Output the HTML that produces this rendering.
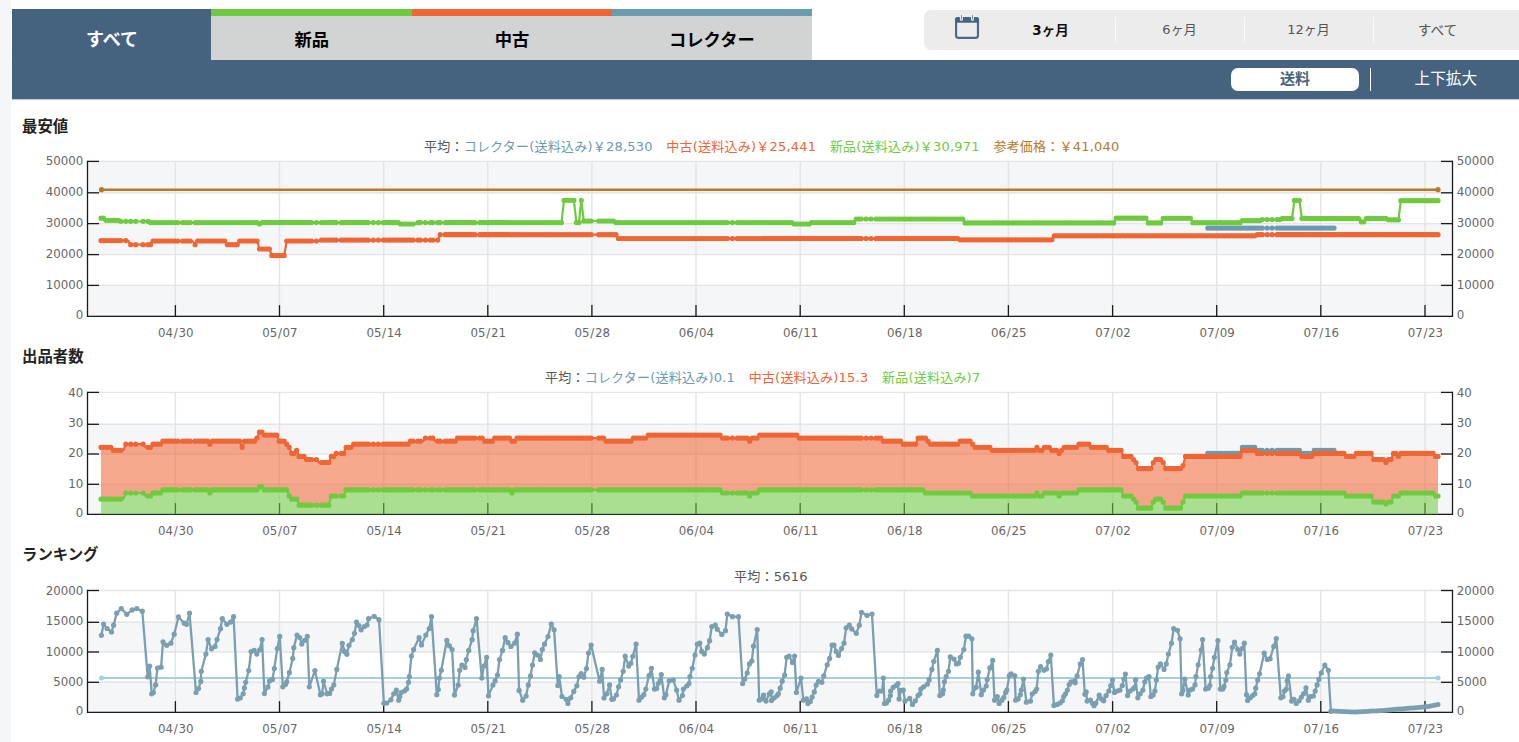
<!DOCTYPE html>
<html lang="ja"><head><meta charset="utf-8"><title>価格推移グラフ</title>
<style>
html,body{margin:0;padding:0}
body{width:1519px;height:742px;overflow:hidden;background:#fff;position:relative;font-family:"Liberation Sans","Noto Sans CJK JP",sans-serif;color:#222}
.abs{position:absolute}
.strip{left:0;top:0;width:11px;height:742px;background:#f5f6f8}
.bar{left:12px;top:59.5px;width:1508px;height:39.3px;background:#45627f;box-shadow:0 1px 1px rgba(0,0,0,.22)}
.tab{top:9px;height:51px;width:201px;text-align:center;font-weight:bold;font-size:17.3px;line-height:17px;color:#000;background:#d2d4d4;box-sizing:border-box}
.tab span{position:absolute;left:0;right:0;top:22.6px}
.tab i{position:absolute;left:0;right:0;top:0;height:7px}
.tab.on{background:#45627f;color:#fff}
.period{left:924px;top:10px;width:620px;height:40px;background:#ececec;border-radius:7px}
.pc{position:absolute;top:0;height:40px;width:129px;text-align:center;font-size:13px;line-height:40px;color:#555;font-family:"DejaVu Sans","Noto Sans CJK JP",sans-serif}
.pc.on{font-weight:bold;color:#111;font-size:13.5px}
.sep{position:absolute;top:7px;height:26px;width:1.3px;background:#fafafa}
.pill{left:1231px;top:68px;width:128px;height:23px;background:#fff;border-radius:7px;text-align:center;font-weight:bold;font-size:15px;line-height:22px;color:#45627f}
.vsep{left:1370px;top:68px;width:1.2px;height:23px;background:#fff}
.zoom{left:1395.8px;top:68.4px;width:100px;height:23px;text-align:center;color:#fff;font-size:15.6px;line-height:22px}
.ttl{left:22px;font-weight:bold;font-size:15.4px;line-height:18px;color:#222;white-space:nowrap}
.lg{font-size:13px;line-height:16px;letter-spacing:.22px;white-space:nowrap;color:#555;font-family:"DejaVu Sans","Noto Sans CJK JP",sans-serif}
.lg span{margin-right:13.6px}
.lg span:last-child{margin-right:0}
svg text{font-family:"DejaVu Sans","Liberation Sans",sans-serif;font-size:11.8px;fill:#666}
</style></head><body>
<div class="abs strip"></div>
<div class="abs bar"></div>
<div class="abs tab on" style="left:12px;width:200px"><span style="font-size:18px">すべて</span></div>
<div class="abs tab" style="left:211.2px"><i style="background:#6ecb3f"></i><span>新品</span></div>
<div class="abs tab" style="left:411.6px"><i style="background:#ef6534"></i><span>中古</span></div>
<div class="abs tab" style="left:611.8px;width:200.2px"><i style="background:#6b9bb0"></i><span>コレクター</span></div>
<div class="abs period">
 <svg class="abs" style="left:30px;top:4px" width="28" height="28" viewBox="0 0 28 28"><rect x="2.07" y="4.15" width="21.9" height="19.75" rx="2.4" fill="none" stroke="#4b6988" stroke-width="2.15"/><path d="M1 8.8V5.6Q1 3.05 3.6 3.05H22.45Q25.05 3.05 25.05 5.6V8.8Z" fill="#456484"/><ellipse cx="7.4" cy="3.9" rx="1.6" ry="3.05" fill="#ececec"/><ellipse cx="18.45" cy="3.9" rx="1.6" ry="3.05" fill="#ececec"/><rect x="7.05" y="0.9" width=".7" height="4.8" rx=".35" fill="#456484"/><rect x="18.1" y="0.9" width=".7" height="4.8" rx=".35" fill="#456484"/></svg>
 <div class="pc on" style="left:62px">3ヶ月</div>
 <div class="sep" style="left:190.5px"></div>
 <div class="pc" style="left:191px">6ヶ月</div>
 <div class="sep" style="left:319.5px"></div>
 <div class="pc" style="left:320px">12ヶ月</div>
 <div class="sep" style="left:448.5px"></div>
 <div class="pc" style="left:449px;font-size:13.7px">すべて</div>
</div>
<div class="abs pill">送料</div>
<div class="abs vsep"></div>
<div class="abs zoom">上下拡大</div>

<div class="abs ttl" style="top:117.8px">最安値</div>
<div class="abs ttl" style="top:348.4px">出品者数</div>
<div class="abs ttl" style="top:545.9px">ランキング</div>

<div class="abs lg" id="lg1" style="left:424px;top:139.4px"><span style="margin-right:0">平均：</span><span style="color:#6b9bb0">コレクター(送料込み)￥28,530</span><span style="color:#ef6534">中古(送料込み)￥25,441</span><span style="color:#6ecb3f">新品(送料込み)￥30,971</span><span style="color:#b57a2b">参考価格：￥41,040</span></div>
<div class="abs lg" id="lg2" style="left:545px;top:370.4px"><span style="margin-right:0">平均：</span><span style="color:#6b9bb0">コレクター(送料込み)0.1</span><span style="color:#ef6534">中古(送料込み)15.3</span><span style="color:#6ecb3f">新品(送料込み)7</span></div>
<div class="abs lg" id="lg3" style="left:734px;top:568.6px"><span style="margin-right:0">平均：</span><span>5616</span></div>

<svg class="abs" style="left:0;top:0" width="1519" height="742" viewBox="0 0 1519 742">
<rect x="87.5" y="161.4" width="1365.0" height="31.4" fill="#f5f6f8"/>
<rect x="87.5" y="223.6" width="1365.0" height="31" fill="#f5f6f8"/>
<rect x="87.5" y="285.4" width="1365.0" height="30.9" fill="#f5f6f8"/>
<line x1="87.5" x2="1452.5" y1="161.4" y2="161.4" stroke="#e4e4e4" stroke-width="1.4"/>
<line x1="87.5" x2="1452.5" y1="192.8" y2="192.8" stroke="#e4e4e4" stroke-width="1.4"/>
<line x1="87.5" x2="1452.5" y1="223.6" y2="223.6" stroke="#e4e4e4" stroke-width="1.4"/>
<line x1="87.5" x2="1452.5" y1="254.6" y2="254.6" stroke="#e4e4e4" stroke-width="1.4"/>
<line x1="87.5" x2="1452.5" y1="285.4" y2="285.4" stroke="#e4e4e4" stroke-width="1.4"/>
<line x1="87.5" x2="1452.5" y1="316.3" y2="316.3" stroke="#e4e4e4" stroke-width="1.4"/>
<line x1="175.4" x2="175.4" y1="161.4" y2="316.3" stroke="#e4e4e4" stroke-width="1.4"/>
<line x1="279.5" x2="279.5" y1="161.4" y2="316.3" stroke="#e4e4e4" stroke-width="1.4"/>
<line x1="383.7" x2="383.7" y1="161.4" y2="316.3" stroke="#e4e4e4" stroke-width="1.4"/>
<line x1="487.8" x2="487.8" y1="161.4" y2="316.3" stroke="#e4e4e4" stroke-width="1.4"/>
<line x1="591.9" x2="591.9" y1="161.4" y2="316.3" stroke="#e4e4e4" stroke-width="1.4"/>
<line x1="696" x2="696" y1="161.4" y2="316.3" stroke="#e4e4e4" stroke-width="1.4"/>
<line x1="800.2" x2="800.2" y1="161.4" y2="316.3" stroke="#e4e4e4" stroke-width="1.4"/>
<line x1="904.3" x2="904.3" y1="161.4" y2="316.3" stroke="#e4e4e4" stroke-width="1.4"/>
<line x1="1008.4" x2="1008.4" y1="161.4" y2="316.3" stroke="#e4e4e4" stroke-width="1.4"/>
<line x1="1112.6" x2="1112.6" y1="161.4" y2="316.3" stroke="#e4e4e4" stroke-width="1.4"/>
<line x1="1216.7" x2="1216.7" y1="161.4" y2="316.3" stroke="#e4e4e4" stroke-width="1.4"/>
<line x1="1320.8" x2="1320.8" y1="161.4" y2="316.3" stroke="#e4e4e4" stroke-width="1.4"/>
<line x1="1425" x2="1425" y1="161.4" y2="316.3" stroke="#e4e4e4" stroke-width="1.4"/>
<path d="M87.5 160.7V316.3H1452.5V160.7" fill="none" stroke="#1a1a1a" stroke-width="1.3"/>
<line x1="87.5" x2="99.0" y1="161.4" y2="161.4" stroke="#1a1a1a" stroke-width="1.3"/>
<line x1="1441.0" x2="1452.5" y1="161.4" y2="161.4" stroke="#1a1a1a" stroke-width="1.3"/>
<text x="83.3" y="165.1" text-anchor="end">50000</text>
<text x="1456.8" y="165.1">50000</text>
<line x1="87.5" x2="99.0" y1="192.8" y2="192.8" stroke="#1a1a1a" stroke-width="1.3"/>
<line x1="1441.0" x2="1452.5" y1="192.8" y2="192.8" stroke="#1a1a1a" stroke-width="1.3"/>
<text x="83.3" y="195.9" text-anchor="end">40000</text>
<text x="1456.8" y="195.9">40000</text>
<line x1="87.5" x2="99.0" y1="223.6" y2="223.6" stroke="#1a1a1a" stroke-width="1.3"/>
<line x1="1441.0" x2="1452.5" y1="223.6" y2="223.6" stroke="#1a1a1a" stroke-width="1.3"/>
<text x="83.3" y="226.7" text-anchor="end">30000</text>
<text x="1456.8" y="226.7">30000</text>
<line x1="87.5" x2="99.0" y1="254.6" y2="254.6" stroke="#1a1a1a" stroke-width="1.3"/>
<line x1="1441.0" x2="1452.5" y1="254.6" y2="254.6" stroke="#1a1a1a" stroke-width="1.3"/>
<text x="83.3" y="257.9" text-anchor="end">20000</text>
<text x="1456.8" y="257.9">20000</text>
<line x1="87.5" x2="99.0" y1="285.4" y2="285.4" stroke="#1a1a1a" stroke-width="1.3"/>
<line x1="1441.0" x2="1452.5" y1="285.4" y2="285.4" stroke="#1a1a1a" stroke-width="1.3"/>
<text x="83.3" y="288.9" text-anchor="end">10000</text>
<text x="1456.8" y="288.9">10000</text>
<text x="83.3" y="318.7" text-anchor="end">0</text>
<text x="1456.8" y="318.7">0</text>
<line x1="175.4" x2="175.4" y1="305.1" y2="316.3" stroke="#1a1a1a" stroke-width="1.3"/>
<text x="175.8" y="336.7" text-anchor="middle">04<tspan dx=".7">/</tspan><tspan dx=".7">30</tspan></text>
<line x1="279.5" x2="279.5" y1="305.1" y2="316.3" stroke="#1a1a1a" stroke-width="1.3"/>
<text x="279.9" y="336.7" text-anchor="middle">05<tspan dx=".7">/</tspan><tspan dx=".7">07</tspan></text>
<line x1="383.7" x2="383.7" y1="305.1" y2="316.3" stroke="#1a1a1a" stroke-width="1.3"/>
<text x="384.1" y="336.7" text-anchor="middle">05<tspan dx=".7">/</tspan><tspan dx=".7">14</tspan></text>
<line x1="487.8" x2="487.8" y1="305.1" y2="316.3" stroke="#1a1a1a" stroke-width="1.3"/>
<text x="488.2" y="336.7" text-anchor="middle">05<tspan dx=".7">/</tspan><tspan dx=".7">21</tspan></text>
<line x1="591.9" x2="591.9" y1="305.1" y2="316.3" stroke="#1a1a1a" stroke-width="1.3"/>
<text x="592.3" y="336.7" text-anchor="middle">05<tspan dx=".7">/</tspan><tspan dx=".7">28</tspan></text>
<line x1="696" x2="696" y1="305.1" y2="316.3" stroke="#1a1a1a" stroke-width="1.3"/>
<text x="696.4" y="336.7" text-anchor="middle">06<tspan dx=".7">/</tspan><tspan dx=".7">04</tspan></text>
<line x1="800.2" x2="800.2" y1="305.1" y2="316.3" stroke="#1a1a1a" stroke-width="1.3"/>
<text x="800.6" y="336.7" text-anchor="middle">06<tspan dx=".7">/</tspan><tspan dx=".7">11</tspan></text>
<line x1="904.3" x2="904.3" y1="305.1" y2="316.3" stroke="#1a1a1a" stroke-width="1.3"/>
<text x="904.7" y="336.7" text-anchor="middle">06<tspan dx=".7">/</tspan><tspan dx=".7">18</tspan></text>
<line x1="1008.4" x2="1008.4" y1="305.1" y2="316.3" stroke="#1a1a1a" stroke-width="1.3"/>
<text x="1008.8" y="336.7" text-anchor="middle">06<tspan dx=".7">/</tspan><tspan dx=".7">25</tspan></text>
<line x1="1112.6" x2="1112.6" y1="305.1" y2="316.3" stroke="#1a1a1a" stroke-width="1.3"/>
<text x="1113" y="336.7" text-anchor="middle">07<tspan dx=".7">/</tspan><tspan dx=".7">02</tspan></text>
<line x1="1216.7" x2="1216.7" y1="305.1" y2="316.3" stroke="#1a1a1a" stroke-width="1.3"/>
<text x="1217.1" y="336.7" text-anchor="middle">07<tspan dx=".7">/</tspan><tspan dx=".7">09</tspan></text>
<line x1="1320.8" x2="1320.8" y1="305.1" y2="316.3" stroke="#1a1a1a" stroke-width="1.3"/>
<text x="1321.2" y="336.7" text-anchor="middle">07<tspan dx=".7">/</tspan><tspan dx=".7">16</tspan></text>
<line x1="1425" x2="1425" y1="305.1" y2="316.3" stroke="#1a1a1a" stroke-width="1.3"/>
<text x="1425.4" y="336.7" text-anchor="middle">07<tspan dx=".7">/</tspan><tspan dx=".7">23</tspan></text>
<line x1="101.5" x2="1438" y1="189.7" y2="189.7" stroke="#b57a2b" stroke-width="2.4"/>
<circle cx="101.5" cy="189.7" r="2.6" fill="#b57a2b"/><circle cx="1438" cy="189.7" r="2.6" fill="#b57a2b"/>
<path d="M1207.8 228.1L1210.2 228.1L1212.7 228.1L1215.2 228.1L1217.7 228.1L1220.2 228.1L1222.6 228.1L1225.1 228.1L1227.6 228.1L1230.1 228.1L1232.5 228.1L1235 228.1L1237.5 228.1L1240 228.1L1242.4 228.1L1244.9 228.1L1247.4 228.1L1249.9 228.1L1252.3 228.1L1254.8 228.1L1257.3 228.1L1259.8 228.1L1262.2 228.1L1264.7 228.1L1267.2 228.1L1269.7 228.1L1272.1 228.1L1274.6 228.1L1277.1 228.1L1279.6 228.1L1282.1 228.1L1284.5 228.1L1287 228.1L1289.5 228.1L1292 228.1L1294.4 228.1L1296.9 228.1L1299.4 228.1L1301.9 228.1L1304.3 228.1L1306.8 228.1L1309.3 228.1L1311.8 228.1L1314.2 228.1L1316.7 228.1L1319.2 228.1L1321.7 228.1L1324.1 228.1L1326.6 228.1L1329.1 228.1L1331.6 228.1L1334 228.1" fill="none" stroke="#6b9bb0" stroke-width="2.2" stroke-linejoin="round"/>
<path d="M1207.8 228.1h0M1210.2 228.1h0M1212.7 228.1h0M1215.2 228.1h0M1217.7 228.1h0M1220.2 228.1h0M1222.6 228.1h0M1225.1 228.1h0M1227.6 228.1h0M1230.1 228.1h0M1232.5 228.1h0M1235 228.1h0M1237.5 228.1h0M1240 228.1h0M1242.4 228.1h0M1244.9 228.1h0M1247.4 228.1h0M1249.9 228.1h0M1252.3 228.1h0M1254.8 228.1h0M1257.3 228.1h0M1259.8 228.1h0M1262.2 228.1h0M1267.2 228.1h0M1272.1 228.1h0M1277.1 228.1h0M1279.6 228.1h0M1282.1 228.1h0M1284.5 228.1h0M1287 228.1h0M1289.5 228.1h0M1292 228.1h0M1294.4 228.1h0M1296.9 228.1h0M1299.4 228.1h0M1301.9 228.1h0M1304.3 228.1h0M1306.8 228.1h0M1309.3 228.1h0M1311.8 228.1h0M1314.2 228.1h0M1316.7 228.1h0M1319.2 228.1h0M1321.7 228.1h0M1324.1 228.1h0M1326.6 228.1h0M1329.1 228.1h0M1331.6 228.1h0M1334 228.1h0" fill="none" stroke="#6b9bb0" stroke-width="5.2" stroke-linecap="round"/>
<path d="M101 240.6L103.5 240.6L106 240.6L108.4 240.6L110.9 240.6L113.4 240.6L115.9 240.6L118.3 240.6L120.8 240.6L123.3 240.6L125.8 240.6L128.2 240.6L130.7 244.7L133.2 244.7L135.7 244.7L138.1 244.7L140.6 244.7L143.1 244.7L145.6 244.7L148 244.7L150.5 244.7L153 241L155.5 241L157.9 241L160.4 241L162.9 241L165.4 241L167.9 241L170.3 241L172.8 241L175.3 241L177.8 241L180.2 241L182.7 241L185.2 241L187.7 241L190.1 241L192.6 241L195.1 244.7L197.6 241L200 241L202.5 241L205 241L207.5 241L209.9 241L212.4 241L214.9 241L217.4 241L219.8 241L222.3 241L224.8 241L227.3 244.7L229.8 244.7L232.2 244.7L234.7 244.7L237.2 244.7L239.7 241L242.1 241L244.6 241L247.1 241L249.6 241L252 241L254.5 241L257 241L259.5 249L261.9 249L264.4 249L266.9 249L269.4 249L271.8 255.6L274.3 255.6L276.8 255.6L279.3 255.6L281.7 255.6L284.2 255.6L286.7 241L289.2 241L291.7 241L294.1 241L296.6 241L299.1 241L301.6 241L304 241L306.5 241L309 241L311.5 241L313.9 241L316.4 241L318.9 241L321.4 240.1L323.8 240.1L326.3 240.1L328.8 240.1L331.3 240.1L333.7 240.1L336.2 240.1L338.7 240.1L341.2 240.1L343.6 240.1L346.1 240.1L348.6 240.1L351.1 240.1L353.6 240.1L356 240.1L358.5 240.1L361 240.1L363.5 240.1L365.9 240.1L368.4 240.1L370.9 240.1L373.4 240.1L375.8 240.1L378.3 240.1L380.8 240.1L383.3 240.1L385.7 240.1L388.2 240.1L390.7 240.1L393.2 240.1L395.6 240.1L398.1 240.1L400.6 240.1L403.1 240.1L405.5 240.1L408 240.1L410.5 240.1L413 240.1L415.5 240.1L417.9 240.1L420.4 240.1L422.9 240.1L425.4 240.1L427.8 240.1L430.3 240.1L432.8 240.1L435.3 240.1L437.7 240.1L440.2 234.7L442.7 234.7L445.2 234.7L447.6 234.7L450.1 234.7L452.6 234.7L455.1 234.7L457.5 234.7L460 234.7L462.5 234.7L465 234.7L467.4 234.7L469.9 234.7L472.4 234.7L474.9 234.7L477.4 234.7L479.8 234.7L482.3 234.7L484.8 234.7L487.3 234.7L489.7 234.7L492.2 234.7L494.7 234.7L497.2 234.7L499.6 234.7L502.1 234.7L504.6 234.7L507.1 234.7L509.5 234.7L512 234.7L514.5 234.7L517 234.7L519.4 234.7L521.9 234.7L524.4 234.7L526.9 234.7L529.3 234.7L531.8 234.7L534.3 234.7L536.8 234.7L539.3 234.7L541.7 234.7L544.2 234.7L546.7 234.7L549.2 234.7L551.6 234.7L554.1 234.7L556.6 234.7L559.1 234.7L561.5 234.7L564 234.7L566.5 234.7L569 234.7L571.4 234.7L573.9 234.7L576.4 234.7L578.9 234.7L581.3 234.7L583.8 234.7L586.3 234.7L588.8 234.7L591.2 234.7L593.7 234.7L596.2 234.7L598.7 234.7L601.2 234.7L603.6 234.7L606.1 234.7L608.6 234.7L611.1 234.7L613.5 234.7L616 234.7L618.5 238.5L621 238.5L623.4 238.5L625.9 238.5L628.4 238.5L630.9 238.5L633.3 238.5L635.8 238.5L638.3 238.5L640.8 238.5L643.2 238.5L645.7 238.5L648.2 238.5L650.7 238.5L653.1 238.5L655.6 238.5L658.1 238.5L660.6 238.5L663.1 238.5L665.5 238.5L668 238.5L670.5 238.5L673 238.5L675.4 238.5L677.9 238.5L680.4 238.5L682.9 238.5L685.3 238.5L687.8 238.5L690.3 238.5L692.8 238.5L695.2 238.5L697.7 238.5L700.2 238.5L702.7 238.5L705.1 238.5L707.6 238.5L710.1 238.5L712.6 238.5L715 238.5L717.5 238.5L720 238.5L722.5 238.5L725 238.5L727.4 238.5L729.9 238.5L732.4 238.5L734.9 238.5L737.3 238.5L739.8 238.5L742.3 238.5L744.8 238.5L747.2 238.5L749.7 238.5L752.2 238.5L754.7 238.5L757.1 238.5L759.6 238.5L762.1 238.5L764.6 238.5L767 238.5L769.5 238.5L772 238.5L774.5 238.5L776.9 238.5L779.4 238.5L781.9 238.5L784.4 238.5L786.9 238.5L789.3 238.5L791.8 238.5L794.3 238.5L796.8 238.5L799.2 238.5L801.7 238.5L804.2 238.5L806.7 238.5L809.1 238.5L811.6 238.5L814.1 238.5L816.6 238.5L819 238.5L821.5 238.5L824 238.5L826.5 238.5L828.9 238.5L831.4 238.5L833.9 238.5L836.4 238.5L838.8 238.5L841.3 238.5L843.8 238.5L846.3 238.5L848.8 238.5L851.2 238.5L853.7 238.5L856.2 238.5L858.7 238.5L861.1 238.5L863.6 238.5L866.1 238.5L868.6 238.5L871 238.5L873.5 238.5L876 238.5L878.5 238.5L880.9 238.5L883.4 238.5L885.9 238.5L888.4 238.5L890.8 238.5L893.3 238.5L895.8 238.5L898.3 238.5L900.7 238.5L903.2 238.5L905.7 238.5L908.2 238.5L910.7 238.5L913.1 238.5L915.6 238.5L918.1 238.5L920.6 238.5L923 238.5L925.5 238.5L928 238.5L930.5 238.5L932.9 238.5L935.4 238.5L937.9 238.5L940.4 238.5L942.8 238.5L945.3 238.5L947.8 238.5L950.3 238.5L952.7 238.5L955.2 238.5L957.7 238.5L960.2 239.8L962.6 239.8L965.1 239.8L967.6 239.8L970.1 239.8L972.6 239.8L975 239.8L977.5 239.8L980 239.8L982.5 239.8L984.9 239.8L987.4 239.8L989.9 239.8L992.4 239.8L994.8 239.8L997.3 239.8L999.8 239.8L1002.3 239.8L1004.7 239.8L1007.2 239.8L1009.7 239.8L1012.2 239.8L1014.6 239.8L1017.1 239.8L1019.6 239.8L1022.1 239.8L1024.5 239.8L1027 239.8L1029.5 239.8L1032 239.8L1034.5 239.8L1036.9 239.8L1039.4 239.8L1041.9 239.8L1044.4 239.8L1046.8 239.8L1049.3 239.8L1051.8 239.8L1054.3 235.8L1056.7 235.8L1059.2 235.8L1061.7 235.8L1064.2 235.8L1066.6 235.8L1069.1 235.8L1071.6 235.8L1074.1 235.8L1076.5 235.8L1079 235.8L1081.5 235.8L1084 235.8L1086.4 235.8L1088.9 235.8L1091.4 235.8L1093.9 235.8L1096.4 235.8L1098.8 235.8L1101.3 235.8L1103.8 235.8L1106.3 235.8L1108.7 235.8L1111.2 235.8L1113.7 235.8L1116.2 235.8L1118.6 235.8L1121.1 235.8L1123.6 235.8L1126.1 235.8L1128.5 235.8L1131 235.8L1133.5 235.8L1136 235.8L1138.4 235.8L1140.9 235.8L1143.4 235.8L1145.9 235.8L1148.3 235.8L1150.8 235.8L1153.3 235.8L1155.8 235.8L1158.3 235.8L1160.7 235.8L1163.2 235.8L1165.7 235.8L1168.2 235.8L1170.6 235.8L1173.1 235.8L1175.6 235.8L1178.1 235.8L1180.5 235.8L1183 235.8L1185.5 235.8L1188 235.8L1190.4 235.8L1192.9 235.8L1195.4 235.8L1197.9 235.8L1200.3 235.8L1202.8 235.8L1205.3 235.8L1207.8 235.8L1210.2 235.8L1212.7 235.8L1215.2 235.8L1217.7 235.8L1220.2 235.8L1222.6 235.8L1225.1 235.8L1227.6 235.8L1230.1 235.8L1232.5 235.8L1235 235.8L1237.5 235.8L1240 235.8L1242.4 235.8L1244.9 235.8L1247.4 235.8L1249.9 235.8L1252.3 235.8L1254.8 235.8L1257.3 234.7L1259.8 234.7L1262.2 234.7L1264.7 234.7L1267.2 234.7L1269.7 234.7L1272.1 234.7L1274.6 234.7L1277.1 234.7L1279.6 234.7L1282.1 234.7L1284.5 234.7L1287 234.7L1289.5 234.7L1292 234.7L1294.4 234.7L1296.9 234.7L1299.4 234.7L1301.9 234.7L1304.3 234.7L1306.8 234.7L1309.3 234.7L1311.8 234.7L1314.2 234.7L1316.7 234.7L1319.2 234.7L1321.7 234.7L1324.1 234.7L1326.6 234.7L1329.1 234.7L1331.6 234.7L1334 234.7L1336.5 234.7L1339 234.7L1341.5 234.7L1344 234.7L1346.4 234.7L1348.9 234.7L1351.4 234.7L1353.9 234.7L1356.3 234.7L1358.8 234.7L1361.3 234.7L1363.8 234.7L1366.2 234.7L1368.7 234.7L1371.2 234.7L1373.7 234.7L1376.1 234.7L1378.6 234.7L1381.1 234.7L1383.6 234.7L1386 234.7L1388.5 234.7L1391 234.7L1393.5 234.7L1395.9 234.7L1398.4 234.7L1400.9 234.7L1403.4 234.7L1405.9 234.7L1408.3 234.7L1410.8 234.7L1413.3 234.7L1415.8 234.7L1418.2 234.7L1420.7 234.7L1423.2 234.7L1425.7 234.7L1428.1 234.7L1430.6 234.7L1433.1 234.7L1435.6 234.7L1438 234.7" fill="none" stroke="#ef6534" stroke-width="2.2" stroke-linejoin="round"/>
<path d="M101 240.6h0M103.5 240.6h0M106 240.6h0M108.4 240.6h0M110.9 240.6h0M113.4 240.6h0M115.9 240.6h0M118.3 240.6h0M120.8 240.6h0M125.8 240.6h0M130.7 244.7h0M135.7 244.7h0M143.1 244.7h0M148 244.7h0M150.5 244.7h0M153 241h0M155.5 241h0M157.9 241h0M160.4 241h0M162.9 241h0M165.4 241h0M167.9 241h0M170.3 241h0M172.8 241h0M175.3 241h0M177.8 241h0M182.7 241h0M185.2 241h0M187.7 241h0M190.1 241h0M195.1 244.7h0M197.6 241h0M200 241h0M202.5 241h0M205 241h0M207.5 241h0M209.9 241h0M212.4 241h0M214.9 241h0M217.4 241h0M219.8 241h0M222.3 241h0M224.8 241h0M227.3 244.7h0M229.8 244.7h0M232.2 244.7h0M234.7 244.7h0M237.2 244.7h0M239.7 241h0M242.1 241h0M244.6 241h0M247.1 241h0M249.6 241h0M252 241h0M254.5 241h0M257 241h0M259.5 249h0M261.9 249h0M264.4 249h0M266.9 249h0M269.4 249h0M271.8 255.6h0M274.3 255.6h0M276.8 255.6h0M279.3 255.6h0M281.7 255.6h0M284.2 255.6h0M286.7 241h0M289.2 241h0M291.7 241h0M294.1 241h0M296.6 241h0M299.1 241h0M301.6 241h0M304 241h0M306.5 241h0M309 241h0M311.5 241h0M316.4 241h0M321.4 240.1h0M323.8 240.1h0M326.3 240.1h0M328.8 240.1h0M331.3 240.1h0M333.7 240.1h0M336.2 240.1h0M341.2 240.1h0M343.6 240.1h0M346.1 240.1h0M348.6 240.1h0M351.1 240.1h0M353.6 240.1h0M356 240.1h0M358.5 240.1h0M361 240.1h0M363.5 240.1h0M365.9 240.1h0M368.4 240.1h0M373.4 240.1h0M378.3 240.1h0M383.3 240.1h0M385.7 240.1h0M388.2 240.1h0M390.7 240.1h0M393.2 240.1h0M395.6 240.1h0M398.1 240.1h0M400.6 240.1h0M403.1 240.1h0M405.5 240.1h0M408 240.1h0M410.5 240.1h0M413 240.1h0M417.9 240.1h0M420.4 240.1h0M425.4 240.1h0M430.3 240.1h0M432.8 240.1h0M437.7 240.1h0M440.2 234.7h0M445.2 234.7h0M447.6 234.7h0M450.1 234.7h0M452.6 234.7h0M455.1 234.7h0M457.5 234.7h0M460 234.7h0M462.5 234.7h0M465 234.7h0M467.4 234.7h0M469.9 234.7h0M472.4 234.7h0M474.9 234.7h0M479.8 234.7h0M482.3 234.7h0M484.8 234.7h0M487.3 234.7h0M489.7 234.7h0M492.2 234.7h0M494.7 234.7h0M497.2 234.7h0M499.6 234.7h0M502.1 234.7h0M504.6 234.7h0M507.1 234.7h0M509.5 234.7h0M512 234.7h0M514.5 234.7h0M517 234.7h0M519.4 234.7h0M521.9 234.7h0M524.4 234.7h0M526.9 234.7h0M529.3 234.7h0M531.8 234.7h0M534.3 234.7h0M536.8 234.7h0M539.3 234.7h0M541.7 234.7h0M544.2 234.7h0M546.7 234.7h0M549.2 234.7h0M551.6 234.7h0M554.1 234.7h0M556.6 234.7h0M559.1 234.7h0M561.5 234.7h0M564 234.7h0M566.5 234.7h0M569 234.7h0M571.4 234.7h0M573.9 234.7h0M576.4 234.7h0M578.9 234.7h0M581.3 234.7h0M583.8 234.7h0M586.3 234.7h0M588.8 234.7h0M591.2 234.7h0M598.7 234.7h0M601.2 234.7h0M603.6 234.7h0M606.1 234.7h0M608.6 234.7h0M611.1 234.7h0M613.5 234.7h0M616 234.7h0M618.5 238.5h0M621 238.5h0M623.4 238.5h0M625.9 238.5h0M628.4 238.5h0M630.9 238.5h0M633.3 238.5h0M635.8 238.5h0M638.3 238.5h0M640.8 238.5h0M643.2 238.5h0M645.7 238.5h0M648.2 238.5h0M650.7 238.5h0M653.1 238.5h0M655.6 238.5h0M658.1 238.5h0M660.6 238.5h0M663.1 238.5h0M665.5 238.5h0M668 238.5h0M670.5 238.5h0M673 238.5h0M675.4 238.5h0M677.9 238.5h0M680.4 238.5h0M682.9 238.5h0M685.3 238.5h0M687.8 238.5h0M690.3 238.5h0M692.8 238.5h0M695.2 238.5h0M697.7 238.5h0M700.2 238.5h0M702.7 238.5h0M705.1 238.5h0M707.6 238.5h0M710.1 238.5h0M712.6 238.5h0M715 238.5h0M717.5 238.5h0M720 238.5h0M722.5 238.5h0M725 238.5h0M727.4 238.5h0M732.4 238.5h0M737.3 238.5h0M739.8 238.5h0M742.3 238.5h0M744.8 238.5h0M747.2 238.5h0M749.7 238.5h0M752.2 238.5h0M754.7 238.5h0M757.1 238.5h0M759.6 238.5h0M762.1 238.5h0M764.6 238.5h0M767 238.5h0M769.5 238.5h0M772 238.5h0M774.5 238.5h0M776.9 238.5h0M779.4 238.5h0M781.9 238.5h0M784.4 238.5h0M786.9 238.5h0M789.3 238.5h0M791.8 238.5h0M794.3 238.5h0M796.8 238.5h0M799.2 238.5h0M801.7 238.5h0M804.2 238.5h0M806.7 238.5h0M809.1 238.5h0M811.6 238.5h0M814.1 238.5h0M816.6 238.5h0M819 238.5h0M821.5 238.5h0M824 238.5h0M826.5 238.5h0M828.9 238.5h0M831.4 238.5h0M833.9 238.5h0M836.4 238.5h0M838.8 238.5h0M841.3 238.5h0M843.8 238.5h0M846.3 238.5h0M848.8 238.5h0M851.2 238.5h0M853.7 238.5h0M856.2 238.5h0M858.7 238.5h0M861.1 238.5h0M866.1 238.5h0M871 238.5h0M876 238.5h0M878.5 238.5h0M880.9 238.5h0M883.4 238.5h0M885.9 238.5h0M888.4 238.5h0M890.8 238.5h0M893.3 238.5h0M895.8 238.5h0M898.3 238.5h0M900.7 238.5h0M903.2 238.5h0M905.7 238.5h0M908.2 238.5h0M910.7 238.5h0M913.1 238.5h0M915.6 238.5h0M918.1 238.5h0M920.6 238.5h0M923 238.5h0M925.5 238.5h0M928 238.5h0M930.5 238.5h0M932.9 238.5h0M935.4 238.5h0M937.9 238.5h0M940.4 238.5h0M942.8 238.5h0M945.3 238.5h0M947.8 238.5h0M950.3 238.5h0M952.7 238.5h0M955.2 238.5h0M957.7 238.5h0M960.2 239.8h0M962.6 239.8h0M965.1 239.8h0M967.6 239.8h0M970.1 239.8h0M972.6 239.8h0M975 239.8h0M977.5 239.8h0M980 239.8h0M982.5 239.8h0M984.9 239.8h0M987.4 239.8h0M989.9 239.8h0M992.4 239.8h0M994.8 239.8h0M997.3 239.8h0M999.8 239.8h0M1002.3 239.8h0M1004.7 239.8h0M1007.2 239.8h0M1009.7 239.8h0M1012.2 239.8h0M1014.6 239.8h0M1017.1 239.8h0M1019.6 239.8h0M1022.1 239.8h0M1024.5 239.8h0M1027 239.8h0M1029.5 239.8h0M1032 239.8h0M1034.5 239.8h0M1036.9 239.8h0M1039.4 239.8h0M1041.9 239.8h0M1044.4 239.8h0M1046.8 239.8h0M1049.3 239.8h0M1051.8 239.8h0M1054.3 235.8h0M1056.7 235.8h0M1059.2 235.8h0M1061.7 235.8h0M1064.2 235.8h0M1066.6 235.8h0M1069.1 235.8h0M1071.6 235.8h0M1074.1 235.8h0M1076.5 235.8h0M1079 235.8h0M1081.5 235.8h0M1084 235.8h0M1086.4 235.8h0M1088.9 235.8h0M1091.4 235.8h0M1093.9 235.8h0M1096.4 235.8h0M1098.8 235.8h0M1101.3 235.8h0M1103.8 235.8h0M1106.3 235.8h0M1108.7 235.8h0M1111.2 235.8h0M1113.7 235.8h0M1116.2 235.8h0M1118.6 235.8h0M1121.1 235.8h0M1123.6 235.8h0M1126.1 235.8h0M1128.5 235.8h0M1131 235.8h0M1133.5 235.8h0M1136 235.8h0M1138.4 235.8h0M1140.9 235.8h0M1143.4 235.8h0M1145.9 235.8h0M1148.3 235.8h0M1150.8 235.8h0M1153.3 235.8h0M1155.8 235.8h0M1158.3 235.8h0M1160.7 235.8h0M1163.2 235.8h0M1165.7 235.8h0M1168.2 235.8h0M1170.6 235.8h0M1173.1 235.8h0M1175.6 235.8h0M1178.1 235.8h0M1180.5 235.8h0M1183 235.8h0M1185.5 235.8h0M1188 235.8h0M1190.4 235.8h0M1192.9 235.8h0M1195.4 235.8h0M1197.9 235.8h0M1200.3 235.8h0M1202.8 235.8h0M1205.3 235.8h0M1207.8 235.8h0M1210.2 235.8h0M1212.7 235.8h0M1215.2 235.8h0M1217.7 235.8h0M1220.2 235.8h0M1222.6 235.8h0M1225.1 235.8h0M1227.6 235.8h0M1230.1 235.8h0M1232.5 235.8h0M1235 235.8h0M1237.5 235.8h0M1240 235.8h0M1242.4 235.8h0M1244.9 235.8h0M1247.4 235.8h0M1249.9 235.8h0M1252.3 235.8h0M1254.8 235.8h0M1257.3 234.7h0M1259.8 234.7h0M1262.2 234.7h0M1267.2 234.7h0M1272.1 234.7h0M1277.1 234.7h0M1279.6 234.7h0M1282.1 234.7h0M1284.5 234.7h0M1287 234.7h0M1289.5 234.7h0M1292 234.7h0M1294.4 234.7h0M1296.9 234.7h0M1299.4 234.7h0M1301.9 234.7h0M1304.3 234.7h0M1306.8 234.7h0M1309.3 234.7h0M1311.8 234.7h0M1314.2 234.7h0M1316.7 234.7h0M1319.2 234.7h0M1321.7 234.7h0M1324.1 234.7h0M1326.6 234.7h0M1329.1 234.7h0M1331.6 234.7h0M1334 234.7h0M1336.5 234.7h0M1339 234.7h0M1341.5 234.7h0M1344 234.7h0M1346.4 234.7h0M1348.9 234.7h0M1351.4 234.7h0M1353.9 234.7h0M1356.3 234.7h0M1358.8 234.7h0M1361.3 234.7h0M1363.8 234.7h0M1366.2 234.7h0M1368.7 234.7h0M1371.2 234.7h0M1373.7 234.7h0M1376.1 234.7h0M1378.6 234.7h0M1381.1 234.7h0M1383.6 234.7h0M1386 234.7h0M1388.5 234.7h0M1391 234.7h0M1393.5 234.7h0M1395.9 234.7h0M1398.4 234.7h0M1400.9 234.7h0M1403.4 234.7h0M1405.9 234.7h0M1408.3 234.7h0M1410.8 234.7h0M1413.3 234.7h0M1415.8 234.7h0M1418.2 234.7h0M1420.7 234.7h0M1423.2 234.7h0M1425.7 234.7h0M1428.1 234.7h0M1430.6 234.7h0M1433.1 234.7h0M1435.6 234.7h0M1438 234.7h0" fill="none" stroke="#ef6534" stroke-width="5.2" stroke-linecap="round"/>
<path d="M101 218.2L103.5 218.2L106 220.3L108.4 220.3L110.9 220.3L113.4 220.3L115.9 220.3L118.3 220.3L120.8 221.3L123.3 221.3L125.8 221.3L128.2 221.3L130.7 221.3L133.2 221.3L135.7 221.3L138.1 221.3L140.6 221.3L143.1 221.3L145.6 221.3L148 221.3L150.5 222.6L153 222.6L155.5 222.6L157.9 222.6L160.4 222.6L162.9 222.6L165.4 222.6L167.9 222.6L170.3 222.6L172.8 222.6L175.3 222.6L177.8 222.6L180.2 222.6L182.7 222.6L185.2 222.6L187.7 222.6L190.1 222.6L192.6 222.6L195.1 222.6L197.6 222.6L200 222.6L202.5 222.6L205 222.6L207.5 222.6L209.9 222.6L212.4 222.6L214.9 222.6L217.4 222.6L219.8 222.6L222.3 222.6L224.8 222.6L227.3 222.6L229.8 222.6L232.2 222.6L234.7 222.6L237.2 222.6L239.7 222.6L242.1 222.6L244.6 222.6L247.1 222.6L249.6 222.6L252 222.6L254.5 222.6L257 222.6L259.5 224L261.9 222.6L264.4 222.6L266.9 222.6L269.4 222.6L271.8 222.6L274.3 222.6L276.8 222.6L279.3 222.6L281.7 222.6L284.2 222.6L286.7 222.6L289.2 222.6L291.7 222.6L294.1 222.6L296.6 222.6L299.1 222.6L301.6 222.6L304 222.6L306.5 222.6L309 222.6L311.5 222.6L313.9 222.6L316.4 222.6L318.9 222.6L321.4 222.6L323.8 222.6L326.3 222.6L328.8 222.6L331.3 222.6L333.7 222.6L336.2 222.6L338.7 222.6L341.2 222.6L343.6 222.6L346.1 222.6L348.6 222.6L351.1 222.6L353.6 222.6L356 222.6L358.5 222.6L361 222.6L363.5 222.6L365.9 222.6L368.4 222.6L370.9 222.6L373.4 222.6L375.8 222.6L378.3 222.6L380.8 222.6L383.3 222.6L385.7 222.6L388.2 222.6L390.7 222.6L393.2 222.6L395.6 222.6L398.1 222.6L400.6 224L403.1 224L405.5 224L408 224L410.5 224L413 224L415.5 224L417.9 222.6L420.4 222.6L422.9 222.6L425.4 222.6L427.8 222.6L430.3 222.6L432.8 222.6L435.3 222.6L437.7 222.6L440.2 222.6L442.7 222.6L445.2 222.6L447.6 222.6L450.1 222.6L452.6 222.6L455.1 222.6L457.5 222.6L460 222.6L462.5 222.6L465 222.6L467.4 222.6L469.9 222.6L472.4 222.6L474.9 222.6L477.4 222.6L479.8 222.6L482.3 222.6L484.8 222.6L487.3 222.6L489.7 222.6L492.2 222.6L494.7 222.6L497.2 222.6L499.6 222.6L502.1 222.6L504.6 222.6L507.1 222.6L509.5 222.6L512 222.6L514.5 222.6L517 222.6L519.4 222.6L521.9 222.6L524.4 222.6L526.9 222.6L529.3 222.6L531.8 222.6L534.3 222.6L536.8 222.6L539.3 222.6L541.7 222.6L544.2 222.6L546.7 222.6L549.2 222.6L551.6 222.6L554.1 222.6L556.6 222.6L559.1 222.6L561.5 222.6L564 200.3L566.5 200.3L569 200.3L571.4 200.3L573.9 200.3L576.4 222.6L578.9 222.6L581.3 200.3L583.8 221L586.3 221L588.8 221L591.2 221L593.7 221L596.2 221L598.7 221L601.2 221L603.6 221L606.1 221L608.6 221L611.1 221L613.5 221L616 222.6L618.5 222.6L621 222.6L623.4 222.6L625.9 222.6L628.4 222.6L630.9 222.6L633.3 222.6L635.8 222.6L638.3 222.6L640.8 222.6L643.2 222.6L645.7 222.6L648.2 222.6L650.7 222.6L653.1 222.6L655.6 222.6L658.1 222.6L660.6 222.6L663.1 222.6L665.5 222.6L668 222.6L670.5 222.6L673 222.6L675.4 222.6L677.9 222.6L680.4 222.6L682.9 222.6L685.3 222.6L687.8 222.6L690.3 222.6L692.8 222.6L695.2 222.6L697.7 222.6L700.2 222.6L702.7 222.6L705.1 222.6L707.6 222.6L710.1 222.6L712.6 222.6L715 222.6L717.5 222.6L720 222.6L722.5 222.6L725 222.6L727.4 222.6L729.9 222.6L732.4 222.6L734.9 222.6L737.3 222.6L739.8 222.6L742.3 222.6L744.8 222.6L747.2 222.6L749.7 222.6L752.2 222.6L754.7 222.6L757.1 222.6L759.6 222.6L762.1 222.6L764.6 222.6L767 222.6L769.5 222.6L772 222.6L774.5 222.6L776.9 222.6L779.4 222.6L781.9 222.6L784.4 222.6L786.9 222.6L789.3 222.6L791.8 222.6L794.3 224L796.8 224L799.2 224L801.7 224L804.2 224L806.7 224L809.1 224L811.6 222.6L814.1 222.6L816.6 222.6L819 222.6L821.5 222.6L824 222.6L826.5 222.6L828.9 222.6L831.4 222.6L833.9 222.6L836.4 222.6L838.8 222.6L841.3 222.6L843.8 222.6L846.3 222.6L848.8 222.6L851.2 222.6L853.7 222.6L856.2 219L858.7 219L861.1 219L863.6 219L866.1 219L868.6 219L871 219L873.5 219L876 219L878.5 219L880.9 219L883.4 219L885.9 219L888.4 219L890.8 219L893.3 219L895.8 219L898.3 219L900.7 219L903.2 219L905.7 219L908.2 219L910.7 219L913.1 219L915.6 219L918.1 219L920.6 219L923 219L925.5 219L928 219L930.5 219L932.9 219L935.4 219L937.9 219L940.4 219L942.8 219L945.3 219L947.8 219L950.3 219L952.7 219L955.2 219L957.7 219L960.2 219L962.6 219L965.1 222.9L967.6 222.9L970.1 222.9L972.6 222.9L975 222.9L977.5 222.9L980 222.9L982.5 222.9L984.9 222.9L987.4 222.9L989.9 222.9L992.4 222.9L994.8 222.9L997.3 222.9L999.8 222.9L1002.3 222.9L1004.7 222.9L1007.2 222.9L1009.7 222.9L1012.2 222.9L1014.6 222.9L1017.1 222.9L1019.6 222.9L1022.1 222.9L1024.5 222.9L1027 222.9L1029.5 222.9L1032 222.9L1034.5 222.9L1036.9 222.9L1039.4 222.9L1041.9 222.9L1044.4 222.9L1046.8 222.9L1049.3 222.9L1051.8 222.9L1054.3 222.9L1056.7 222.9L1059.2 222.9L1061.7 222.9L1064.2 222.9L1066.6 222.9L1069.1 222.9L1071.6 222.9L1074.1 222.9L1076.5 222.9L1079 222.9L1081.5 222.9L1084 222.9L1086.4 222.9L1088.9 222.9L1091.4 222.9L1093.9 222.9L1096.4 222.9L1098.8 222.9L1101.3 222.9L1103.8 222.9L1106.3 222.9L1108.7 222.9L1111.2 222.9L1113.7 222.9L1116.2 218.2L1118.6 218.2L1121.1 218.2L1123.6 218.2L1126.1 218.2L1128.5 218.2L1131 218.2L1133.5 218.2L1136 218.2L1138.4 218.2L1140.9 218.2L1143.4 218.2L1145.9 218.2L1148.3 222.9L1150.8 222.9L1153.3 222.9L1155.8 222.9L1158.3 222.9L1160.7 222.9L1163.2 218.3L1165.7 218.3L1168.2 218.3L1170.6 218.3L1173.1 218.3L1175.6 218.3L1178.1 218.3L1180.5 218.3L1183 218.3L1185.5 218.3L1188 218.3L1190.4 218.3L1192.9 222.7L1195.4 222.7L1197.9 222.7L1200.3 222.7L1202.8 222.7L1205.3 222.7L1207.8 222.7L1210.2 222.7L1212.7 222.7L1215.2 222.7L1217.7 222.7L1220.2 222.7L1222.6 222.7L1225.1 222.7L1227.6 222.7L1230.1 222.7L1232.5 222.7L1235 222.7L1237.5 222.7L1240 222.7L1242.4 220.6L1244.9 220.6L1247.4 220.6L1249.9 220.6L1252.3 220.6L1254.8 220.6L1257.3 220.6L1259.8 220.6L1262.2 219.6L1264.7 219.6L1267.2 219.6L1269.7 219.6L1272.1 219.6L1274.6 219.6L1277.1 219.6L1279.6 219.6L1282.1 218.6L1284.5 218.6L1287 218.6L1289.5 218.6L1292 218.6L1294.4 200.4L1296.9 200.4L1299.4 200.4L1301.9 218.6L1304.3 218.6L1306.8 218.6L1309.3 218.6L1311.8 218.6L1314.2 218.6L1316.7 218.6L1319.2 218.6L1321.7 218.6L1324.1 218.6L1326.6 218.6L1329.1 218.6L1331.6 218.6L1334 218.6L1336.5 218.6L1339 218.6L1341.5 218.6L1344 218.6L1346.4 218.6L1348.9 218.6L1351.4 218.6L1353.9 218.6L1356.3 218.6L1358.8 218.6L1361.3 221.8L1363.8 221.8L1366.2 218.6L1368.7 218.6L1371.2 218.6L1373.7 218.6L1376.1 218.6L1378.6 218.6L1381.1 218.6L1383.6 218.6L1386 218.6L1388.5 219.8L1391 219.8L1393.5 219.8L1395.9 219.8L1398.4 219.8L1400.9 200.7L1403.4 200.7L1405.9 200.7L1408.3 200.7L1410.8 200.7L1413.3 200.7L1415.8 200.7L1418.2 200.7L1420.7 200.7L1423.2 200.7L1425.7 200.7L1428.1 200.7L1430.6 200.7L1433.1 200.7L1435.6 200.7L1438 200.7" fill="none" stroke="#6ecb3f" stroke-width="2.2" stroke-linejoin="round"/>
<path d="M101 218.2h0M103.5 218.2h0M106 220.3h0M108.4 220.3h0M110.9 220.3h0M113.4 220.3h0M115.9 220.3h0M118.3 220.3h0M120.8 221.3h0M125.8 221.3h0M130.7 221.3h0M135.7 221.3h0M143.1 221.3h0M148 221.3h0M150.5 222.6h0M153 222.6h0M155.5 222.6h0M157.9 222.6h0M160.4 222.6h0M162.9 222.6h0M165.4 222.6h0M167.9 222.6h0M170.3 222.6h0M172.8 222.6h0M175.3 222.6h0M177.8 222.6h0M182.7 222.6h0M185.2 222.6h0M187.7 222.6h0M190.1 222.6h0M195.1 222.6h0M197.6 222.6h0M200 222.6h0M202.5 222.6h0M205 222.6h0M207.5 222.6h0M209.9 222.6h0M212.4 222.6h0M214.9 222.6h0M217.4 222.6h0M219.8 222.6h0M222.3 222.6h0M224.8 222.6h0M227.3 222.6h0M229.8 222.6h0M232.2 222.6h0M234.7 222.6h0M237.2 222.6h0M239.7 222.6h0M242.1 222.6h0M244.6 222.6h0M247.1 222.6h0M249.6 222.6h0M252 222.6h0M254.5 222.6h0M257 222.6h0M259.5 224h0M261.9 222.6h0M264.4 222.6h0M266.9 222.6h0M269.4 222.6h0M271.8 222.6h0M274.3 222.6h0M276.8 222.6h0M279.3 222.6h0M281.7 222.6h0M284.2 222.6h0M286.7 222.6h0M289.2 222.6h0M291.7 222.6h0M294.1 222.6h0M296.6 222.6h0M299.1 222.6h0M301.6 222.6h0M304 222.6h0M306.5 222.6h0M309 222.6h0M311.5 222.6h0M316.4 222.6h0M321.4 222.6h0M323.8 222.6h0M326.3 222.6h0M328.8 222.6h0M331.3 222.6h0M333.7 222.6h0M336.2 222.6h0M341.2 222.6h0M343.6 222.6h0M346.1 222.6h0M348.6 222.6h0M351.1 222.6h0M353.6 222.6h0M356 222.6h0M358.5 222.6h0M361 222.6h0M363.5 222.6h0M365.9 222.6h0M368.4 222.6h0M373.4 222.6h0M378.3 222.6h0M383.3 222.6h0M385.7 222.6h0M388.2 222.6h0M390.7 222.6h0M393.2 222.6h0M395.6 222.6h0M398.1 222.6h0M400.6 224h0M403.1 224h0M405.5 224h0M408 224h0M410.5 224h0M413 224h0M417.9 222.6h0M420.4 222.6h0M425.4 222.6h0M430.3 222.6h0M432.8 222.6h0M437.7 222.6h0M440.2 222.6h0M445.2 222.6h0M447.6 222.6h0M450.1 222.6h0M452.6 222.6h0M455.1 222.6h0M457.5 222.6h0M460 222.6h0M462.5 222.6h0M465 222.6h0M467.4 222.6h0M469.9 222.6h0M472.4 222.6h0M474.9 222.6h0M479.8 222.6h0M482.3 222.6h0M484.8 222.6h0M487.3 222.6h0M489.7 222.6h0M492.2 222.6h0M494.7 222.6h0M497.2 222.6h0M499.6 222.6h0M502.1 222.6h0M504.6 222.6h0M507.1 222.6h0M509.5 222.6h0M512 222.6h0M514.5 222.6h0M517 222.6h0M519.4 222.6h0M521.9 222.6h0M524.4 222.6h0M526.9 222.6h0M529.3 222.6h0M531.8 222.6h0M534.3 222.6h0M536.8 222.6h0M539.3 222.6h0M541.7 222.6h0M544.2 222.6h0M546.7 222.6h0M549.2 222.6h0M551.6 222.6h0M554.1 222.6h0M556.6 222.6h0M559.1 222.6h0M561.5 222.6h0M564 200.3h0M566.5 200.3h0M569 200.3h0M571.4 200.3h0M573.9 200.3h0M576.4 222.6h0M578.9 222.6h0M581.3 200.3h0M583.8 221h0M586.3 221h0M588.8 221h0M591.2 221h0M598.7 221h0M601.2 221h0M603.6 221h0M606.1 221h0M608.6 221h0M611.1 221h0M613.5 221h0M616 222.6h0M618.5 222.6h0M621 222.6h0M623.4 222.6h0M625.9 222.6h0M628.4 222.6h0M630.9 222.6h0M633.3 222.6h0M635.8 222.6h0M638.3 222.6h0M640.8 222.6h0M643.2 222.6h0M645.7 222.6h0M648.2 222.6h0M650.7 222.6h0M653.1 222.6h0M655.6 222.6h0M658.1 222.6h0M660.6 222.6h0M663.1 222.6h0M665.5 222.6h0M668 222.6h0M670.5 222.6h0M673 222.6h0M675.4 222.6h0M677.9 222.6h0M680.4 222.6h0M682.9 222.6h0M685.3 222.6h0M687.8 222.6h0M690.3 222.6h0M692.8 222.6h0M695.2 222.6h0M697.7 222.6h0M700.2 222.6h0M702.7 222.6h0M705.1 222.6h0M707.6 222.6h0M710.1 222.6h0M712.6 222.6h0M715 222.6h0M717.5 222.6h0M720 222.6h0M722.5 222.6h0M725 222.6h0M727.4 222.6h0M732.4 222.6h0M737.3 222.6h0M739.8 222.6h0M742.3 222.6h0M744.8 222.6h0M747.2 222.6h0M749.7 222.6h0M752.2 222.6h0M754.7 222.6h0M757.1 222.6h0M759.6 222.6h0M762.1 222.6h0M764.6 222.6h0M767 222.6h0M769.5 222.6h0M772 222.6h0M774.5 222.6h0M776.9 222.6h0M779.4 222.6h0M781.9 222.6h0M784.4 222.6h0M786.9 222.6h0M789.3 222.6h0M791.8 222.6h0M794.3 224h0M796.8 224h0M799.2 224h0M801.7 224h0M804.2 224h0M806.7 224h0M809.1 224h0M811.6 222.6h0M814.1 222.6h0M816.6 222.6h0M819 222.6h0M821.5 222.6h0M824 222.6h0M826.5 222.6h0M828.9 222.6h0M831.4 222.6h0M833.9 222.6h0M836.4 222.6h0M838.8 222.6h0M841.3 222.6h0M843.8 222.6h0M846.3 222.6h0M848.8 222.6h0M851.2 222.6h0M853.7 222.6h0M856.2 219h0M858.7 219h0M861.1 219h0M866.1 219h0M871 219h0M876 219h0M878.5 219h0M880.9 219h0M883.4 219h0M885.9 219h0M888.4 219h0M890.8 219h0M893.3 219h0M895.8 219h0M898.3 219h0M900.7 219h0M903.2 219h0M905.7 219h0M908.2 219h0M910.7 219h0M913.1 219h0M915.6 219h0M918.1 219h0M920.6 219h0M923 219h0M925.5 219h0M928 219h0M930.5 219h0M932.9 219h0M935.4 219h0M937.9 219h0M940.4 219h0M942.8 219h0M945.3 219h0M947.8 219h0M950.3 219h0M952.7 219h0M955.2 219h0M957.7 219h0M960.2 219h0M962.6 219h0M965.1 222.9h0M967.6 222.9h0M970.1 222.9h0M972.6 222.9h0M975 222.9h0M977.5 222.9h0M980 222.9h0M982.5 222.9h0M984.9 222.9h0M987.4 222.9h0M989.9 222.9h0M992.4 222.9h0M994.8 222.9h0M997.3 222.9h0M999.8 222.9h0M1002.3 222.9h0M1004.7 222.9h0M1007.2 222.9h0M1009.7 222.9h0M1012.2 222.9h0M1014.6 222.9h0M1017.1 222.9h0M1019.6 222.9h0M1022.1 222.9h0M1024.5 222.9h0M1027 222.9h0M1029.5 222.9h0M1032 222.9h0M1034.5 222.9h0M1036.9 222.9h0M1039.4 222.9h0M1041.9 222.9h0M1044.4 222.9h0M1046.8 222.9h0M1049.3 222.9h0M1051.8 222.9h0M1054.3 222.9h0M1056.7 222.9h0M1059.2 222.9h0M1061.7 222.9h0M1064.2 222.9h0M1066.6 222.9h0M1069.1 222.9h0M1071.6 222.9h0M1074.1 222.9h0M1076.5 222.9h0M1079 222.9h0M1081.5 222.9h0M1084 222.9h0M1086.4 222.9h0M1088.9 222.9h0M1091.4 222.9h0M1093.9 222.9h0M1096.4 222.9h0M1098.8 222.9h0M1101.3 222.9h0M1103.8 222.9h0M1106.3 222.9h0M1108.7 222.9h0M1111.2 222.9h0M1113.7 222.9h0M1116.2 218.2h0M1118.6 218.2h0M1121.1 218.2h0M1123.6 218.2h0M1126.1 218.2h0M1128.5 218.2h0M1131 218.2h0M1133.5 218.2h0M1136 218.2h0M1138.4 218.2h0M1140.9 218.2h0M1143.4 218.2h0M1145.9 218.2h0M1148.3 222.9h0M1150.8 222.9h0M1153.3 222.9h0M1155.8 222.9h0M1158.3 222.9h0M1160.7 222.9h0M1163.2 218.3h0M1165.7 218.3h0M1168.2 218.3h0M1170.6 218.3h0M1173.1 218.3h0M1175.6 218.3h0M1178.1 218.3h0M1180.5 218.3h0M1183 218.3h0M1185.5 218.3h0M1188 218.3h0M1190.4 218.3h0M1192.9 222.7h0M1195.4 222.7h0M1197.9 222.7h0M1200.3 222.7h0M1202.8 222.7h0M1205.3 222.7h0M1207.8 222.7h0M1210.2 222.7h0M1212.7 222.7h0M1215.2 222.7h0M1217.7 222.7h0M1220.2 222.7h0M1222.6 222.7h0M1225.1 222.7h0M1227.6 222.7h0M1230.1 222.7h0M1232.5 222.7h0M1235 222.7h0M1237.5 222.7h0M1240 222.7h0M1242.4 220.6h0M1244.9 220.6h0M1247.4 220.6h0M1249.9 220.6h0M1252.3 220.6h0M1254.8 220.6h0M1257.3 220.6h0M1259.8 220.6h0M1262.2 219.6h0M1267.2 219.6h0M1272.1 219.6h0M1277.1 219.6h0M1279.6 219.6h0M1282.1 218.6h0M1284.5 218.6h0M1287 218.6h0M1289.5 218.6h0M1292 218.6h0M1294.4 200.4h0M1296.9 200.4h0M1299.4 200.4h0M1301.9 218.6h0M1304.3 218.6h0M1306.8 218.6h0M1309.3 218.6h0M1311.8 218.6h0M1314.2 218.6h0M1316.7 218.6h0M1319.2 218.6h0M1321.7 218.6h0M1324.1 218.6h0M1326.6 218.6h0M1329.1 218.6h0M1331.6 218.6h0M1334 218.6h0M1336.5 218.6h0M1339 218.6h0M1341.5 218.6h0M1344 218.6h0M1346.4 218.6h0M1348.9 218.6h0M1351.4 218.6h0M1353.9 218.6h0M1356.3 218.6h0M1358.8 218.6h0M1361.3 221.8h0M1363.8 221.8h0M1366.2 218.6h0M1368.7 218.6h0M1371.2 218.6h0M1373.7 218.6h0M1376.1 218.6h0M1378.6 218.6h0M1381.1 218.6h0M1383.6 218.6h0M1386 218.6h0M1388.5 219.8h0M1391 219.8h0M1393.5 219.8h0M1395.9 219.8h0M1398.4 219.8h0M1400.9 200.7h0M1403.4 200.7h0M1405.9 200.7h0M1408.3 200.7h0M1410.8 200.7h0M1413.3 200.7h0M1415.8 200.7h0M1418.2 200.7h0M1420.7 200.7h0M1423.2 200.7h0M1425.7 200.7h0M1428.1 200.7h0M1430.6 200.7h0M1433.1 200.7h0M1435.6 200.7h0M1438 200.7h0" fill="none" stroke="#6ecb3f" stroke-width="5.2" stroke-linecap="round"/>
<rect x="87.5" y="424.3" width="1365.0" height="29.7" fill="#f5f6f8"/>
<rect x="87.5" y="484.3" width="1365.0" height="30" fill="#f5f6f8"/>
<line x1="87.5" x2="1452.5" y1="392.4" y2="392.4" stroke="#e4e4e4" stroke-width="1.4"/>
<line x1="87.5" x2="1452.5" y1="424.3" y2="424.3" stroke="#e4e4e4" stroke-width="1.4"/>
<line x1="87.5" x2="1452.5" y1="454" y2="454" stroke="#e4e4e4" stroke-width="1.4"/>
<line x1="87.5" x2="1452.5" y1="484.3" y2="484.3" stroke="#e4e4e4" stroke-width="1.4"/>
<line x1="87.5" x2="1452.5" y1="514.3" y2="514.3" stroke="#e4e4e4" stroke-width="1.4"/>
<line x1="175.4" x2="175.4" y1="392.4" y2="514.3" stroke="#e4e4e4" stroke-width="1.4"/>
<line x1="279.5" x2="279.5" y1="392.4" y2="514.3" stroke="#e4e4e4" stroke-width="1.4"/>
<line x1="383.7" x2="383.7" y1="392.4" y2="514.3" stroke="#e4e4e4" stroke-width="1.4"/>
<line x1="487.8" x2="487.8" y1="392.4" y2="514.3" stroke="#e4e4e4" stroke-width="1.4"/>
<line x1="591.9" x2="591.9" y1="392.4" y2="514.3" stroke="#e4e4e4" stroke-width="1.4"/>
<line x1="696" x2="696" y1="392.4" y2="514.3" stroke="#e4e4e4" stroke-width="1.4"/>
<line x1="800.2" x2="800.2" y1="392.4" y2="514.3" stroke="#e4e4e4" stroke-width="1.4"/>
<line x1="904.3" x2="904.3" y1="392.4" y2="514.3" stroke="#e4e4e4" stroke-width="1.4"/>
<line x1="1008.4" x2="1008.4" y1="392.4" y2="514.3" stroke="#e4e4e4" stroke-width="1.4"/>
<line x1="1112.6" x2="1112.6" y1="392.4" y2="514.3" stroke="#e4e4e4" stroke-width="1.4"/>
<line x1="1216.7" x2="1216.7" y1="392.4" y2="514.3" stroke="#e4e4e4" stroke-width="1.4"/>
<line x1="1320.8" x2="1320.8" y1="392.4" y2="514.3" stroke="#e4e4e4" stroke-width="1.4"/>
<line x1="1425" x2="1425" y1="392.4" y2="514.3" stroke="#e4e4e4" stroke-width="1.4"/>
<path d="M87.5 391.8V514.3H1452.5V391.8" fill="none" stroke="#1a1a1a" stroke-width="1.3"/>
<line x1="87.5" x2="99.0" y1="392.4" y2="392.4" stroke="#1a1a1a" stroke-width="1.3"/>
<line x1="1441.0" x2="1452.5" y1="392.4" y2="392.4" stroke="#1a1a1a" stroke-width="1.3"/>
<text x="83.3" y="396.6" text-anchor="end">40</text>
<text x="1456.8" y="396.6">40</text>
<line x1="87.5" x2="99.0" y1="424.3" y2="424.3" stroke="#1a1a1a" stroke-width="1.3"/>
<line x1="1441.0" x2="1452.5" y1="424.3" y2="424.3" stroke="#1a1a1a" stroke-width="1.3"/>
<text x="83.3" y="426.8" text-anchor="end">30</text>
<text x="1456.8" y="426.8">30</text>
<line x1="87.5" x2="99.0" y1="454" y2="454" stroke="#1a1a1a" stroke-width="1.3"/>
<line x1="1441.0" x2="1452.5" y1="454" y2="454" stroke="#1a1a1a" stroke-width="1.3"/>
<text x="83.3" y="457.4" text-anchor="end">20</text>
<text x="1456.8" y="457.4">20</text>
<line x1="87.5" x2="99.0" y1="484.3" y2="484.3" stroke="#1a1a1a" stroke-width="1.3"/>
<line x1="1441.0" x2="1452.5" y1="484.3" y2="484.3" stroke="#1a1a1a" stroke-width="1.3"/>
<text x="83.3" y="487.6" text-anchor="end">10</text>
<text x="1456.8" y="487.6">10</text>
<text x="83.3" y="517" text-anchor="end">0</text>
<text x="1456.8" y="517">0</text>
<line x1="175.4" x2="175.4" y1="503.1" y2="514.3" stroke="#1a1a1a" stroke-width="1.3"/>
<text x="175.8" y="534.7" text-anchor="middle">04<tspan dx=".7">/</tspan><tspan dx=".7">30</tspan></text>
<line x1="279.5" x2="279.5" y1="503.1" y2="514.3" stroke="#1a1a1a" stroke-width="1.3"/>
<text x="279.9" y="534.7" text-anchor="middle">05<tspan dx=".7">/</tspan><tspan dx=".7">07</tspan></text>
<line x1="383.7" x2="383.7" y1="503.1" y2="514.3" stroke="#1a1a1a" stroke-width="1.3"/>
<text x="384.1" y="534.7" text-anchor="middle">05<tspan dx=".7">/</tspan><tspan dx=".7">14</tspan></text>
<line x1="487.8" x2="487.8" y1="503.1" y2="514.3" stroke="#1a1a1a" stroke-width="1.3"/>
<text x="488.2" y="534.7" text-anchor="middle">05<tspan dx=".7">/</tspan><tspan dx=".7">21</tspan></text>
<line x1="591.9" x2="591.9" y1="503.1" y2="514.3" stroke="#1a1a1a" stroke-width="1.3"/>
<text x="592.3" y="534.7" text-anchor="middle">05<tspan dx=".7">/</tspan><tspan dx=".7">28</tspan></text>
<line x1="696" x2="696" y1="503.1" y2="514.3" stroke="#1a1a1a" stroke-width="1.3"/>
<text x="696.4" y="534.7" text-anchor="middle">06<tspan dx=".7">/</tspan><tspan dx=".7">04</tspan></text>
<line x1="800.2" x2="800.2" y1="503.1" y2="514.3" stroke="#1a1a1a" stroke-width="1.3"/>
<text x="800.6" y="534.7" text-anchor="middle">06<tspan dx=".7">/</tspan><tspan dx=".7">11</tspan></text>
<line x1="904.3" x2="904.3" y1="503.1" y2="514.3" stroke="#1a1a1a" stroke-width="1.3"/>
<text x="904.7" y="534.7" text-anchor="middle">06<tspan dx=".7">/</tspan><tspan dx=".7">18</tspan></text>
<line x1="1008.4" x2="1008.4" y1="503.1" y2="514.3" stroke="#1a1a1a" stroke-width="1.3"/>
<text x="1008.8" y="534.7" text-anchor="middle">06<tspan dx=".7">/</tspan><tspan dx=".7">25</tspan></text>
<line x1="1112.6" x2="1112.6" y1="503.1" y2="514.3" stroke="#1a1a1a" stroke-width="1.3"/>
<text x="1113" y="534.7" text-anchor="middle">07<tspan dx=".7">/</tspan><tspan dx=".7">02</tspan></text>
<line x1="1216.7" x2="1216.7" y1="503.1" y2="514.3" stroke="#1a1a1a" stroke-width="1.3"/>
<text x="1217.1" y="534.7" text-anchor="middle">07<tspan dx=".7">/</tspan><tspan dx=".7">09</tspan></text>
<line x1="1320.8" x2="1320.8" y1="503.1" y2="514.3" stroke="#1a1a1a" stroke-width="1.3"/>
<text x="1321.2" y="534.7" text-anchor="middle">07<tspan dx=".7">/</tspan><tspan dx=".7">16</tspan></text>
<line x1="1425" x2="1425" y1="503.1" y2="514.3" stroke="#1a1a1a" stroke-width="1.3"/>
<text x="1425.4" y="534.7" text-anchor="middle">07<tspan dx=".7">/</tspan><tspan dx=".7">23</tspan></text>
<polygon points="101,499.1 103.5,499.1 106,499.1 108.4,499.1 110.9,499.1 113.4,499.1 115.9,499.1 118.3,499.1 120.8,499.1 123.3,499.1 125.8,493 128.2,493 130.7,493 133.2,493 135.7,493 138.1,493 140.6,493 143.1,493 145.6,496 148,496 150.5,496 153,493 155.5,493 157.9,493 160.4,493 162.9,489.9 165.4,489.9 167.9,489.9 170.3,489.9 172.8,489.9 175.3,489.9 177.8,489.9 180.2,489.9 182.7,489.9 185.2,489.9 187.7,489.9 190.1,489.9 192.6,489.9 195.1,489.9 197.6,489.9 200,489.9 202.5,489.9 205,489.9 207.5,489.9 209.9,493 212.4,489.9 214.9,489.9 217.4,489.9 219.8,489.9 222.3,489.9 224.8,489.9 227.3,489.9 229.8,489.9 232.2,489.9 234.7,489.9 237.2,489.9 239.7,489.9 242.1,489.9 244.6,489.9 247.1,489.9 249.6,489.9 252,489.9 254.5,489.9 257,489.9 259.5,486.9 261.9,486.9 264.4,489.9 266.9,489.9 269.4,489.9 271.8,489.9 274.3,489.9 276.8,489.9 279.3,489.9 281.7,489.9 284.2,489.9 286.7,489.9 289.2,496 291.7,499.1 294.1,499.1 296.6,499.1 299.1,505.2 301.6,505.2 304,505.2 306.5,505.2 309,505.2 311.5,505.2 313.9,505.2 316.4,505.2 318.9,505.2 321.4,505.2 323.8,505.2 326.3,505.2 328.8,505.2 331.3,496 333.7,496 336.2,496 338.7,496 341.2,496 343.6,496 346.1,489.9 348.6,489.9 351.1,489.9 353.6,489.9 356,489.9 358.5,489.9 361,489.9 363.5,489.9 365.9,489.9 368.4,489.9 370.9,489.9 373.4,489.9 375.8,489.9 378.3,489.9 380.8,489.9 383.3,489.9 385.7,489.9 388.2,489.9 390.7,489.9 393.2,489.9 395.6,489.9 398.1,489.9 400.6,489.9 403.1,489.9 405.5,489.9 408,489.9 410.5,489.9 413,489.9 415.5,489.9 417.9,489.9 420.4,489.9 422.9,489.9 425.4,489.9 427.8,489.9 430.3,489.9 432.8,489.9 435.3,489.9 437.7,489.9 440.2,489.9 442.7,489.9 445.2,489.9 447.6,489.9 450.1,489.9 452.6,489.9 455.1,489.9 457.5,489.9 460,489.9 462.5,489.9 465,489.9 467.4,489.9 469.9,489.9 472.4,489.9 474.9,489.9 477.4,489.9 479.8,489.9 482.3,489.9 484.8,489.9 487.3,489.9 489.7,489.9 492.2,489.9 494.7,489.9 497.2,489.9 499.6,489.9 502.1,489.9 504.6,489.9 507.1,489.9 509.5,489.9 512,493 514.5,489.9 517,489.9 519.4,489.9 521.9,489.9 524.4,489.9 526.9,489.9 529.3,489.9 531.8,489.9 534.3,489.9 536.8,489.9 539.3,489.9 541.7,489.9 544.2,489.9 546.7,489.9 549.2,489.9 551.6,489.9 554.1,489.9 556.6,489.9 559.1,489.9 561.5,489.9 564,489.9 566.5,489.9 569,489.9 571.4,489.9 573.9,489.9 576.4,489.9 578.9,489.9 581.3,489.9 583.8,489.9 586.3,489.9 588.8,489.9 591.2,489.9 593.7,489.9 596.2,489.9 598.7,489.9 601.2,489.9 603.6,489.9 606.1,489.9 608.6,489.9 611.1,489.9 613.5,489.9 616,489.9 618.5,489.9 621,489.9 623.4,489.9 625.9,489.9 628.4,489.9 630.9,489.9 633.3,489.9 635.8,489.9 638.3,489.9 640.8,489.9 643.2,489.9 645.7,489.9 648.2,489.9 650.7,489.9 653.1,489.9 655.6,489.9 658.1,489.9 660.6,489.9 663.1,489.9 665.5,489.9 668,489.9 670.5,489.9 673,489.9 675.4,489.9 677.9,489.9 680.4,489.9 682.9,489.9 685.3,489.9 687.8,489.9 690.3,489.9 692.8,489.9 695.2,489.9 697.7,489.9 700.2,489.9 702.7,489.9 705.1,489.9 707.6,489.9 710.1,489.9 712.6,489.9 715,489.9 717.5,489.9 720,489.9 722.5,493 725,493 727.4,493 729.9,493 732.4,493 734.9,493 737.3,493 739.8,493 742.3,493 744.8,493 747.2,493 749.7,496 752.2,493 754.7,493 757.1,493 759.6,489.9 762.1,489.9 764.6,489.9 767,489.9 769.5,489.9 772,489.9 774.5,489.9 776.9,489.9 779.4,489.9 781.9,489.9 784.4,489.9 786.9,489.9 789.3,489.9 791.8,489.9 794.3,489.9 796.8,489.9 799.2,489.9 801.7,489.9 804.2,489.9 806.7,489.9 809.1,489.9 811.6,489.9 814.1,489.9 816.6,489.9 819,489.9 821.5,489.9 824,489.9 826.5,489.9 828.9,489.9 831.4,489.9 833.9,489.9 836.4,489.9 838.8,489.9 841.3,489.9 843.8,489.9 846.3,489.9 848.8,489.9 851.2,489.9 853.7,489.9 856.2,489.9 858.7,489.9 861.1,489.9 863.6,489.9 866.1,489.9 868.6,489.9 871,489.9 873.5,489.9 876,489.9 878.5,489.9 880.9,489.9 883.4,489.9 885.9,489.9 888.4,489.9 890.8,489.9 893.3,489.9 895.8,489.9 898.3,489.9 900.7,489.9 903.2,489.9 905.7,489.9 908.2,489.9 910.7,489.9 913.1,489.9 915.6,489.9 918.1,489.9 920.6,489.9 923,489.9 925.5,493 928,493 930.5,493 932.9,493 935.4,493 937.9,493 940.4,493 942.8,493 945.3,493 947.8,493 950.3,493 952.7,493 955.2,493 957.7,493 960.2,493 962.6,493 965.1,493 967.6,493 970.1,493 972.6,496 975,496 977.5,496 980,496 982.5,496 984.9,496 987.4,496 989.9,496 992.4,496 994.8,496 997.3,496 999.8,496 1002.3,496 1004.7,496 1007.2,496 1009.7,496 1012.2,496 1014.6,496 1017.1,496 1019.6,496 1022.1,496 1024.5,496 1027,496 1029.5,496 1032,496 1034.5,496 1036.9,493 1039.4,496 1041.9,496 1044.4,493 1046.8,493 1049.3,493 1051.8,493 1054.3,493 1056.7,493 1059.2,496 1061.7,493 1064.2,493 1066.6,493 1069.1,493 1071.6,493 1074.1,493 1076.5,493 1079,489.9 1081.5,489.9 1084,489.9 1086.4,489.9 1088.9,489.9 1091.4,489.9 1093.9,489.9 1096.4,489.9 1098.8,489.9 1101.3,489.9 1103.8,489.9 1106.3,489.9 1108.7,489.9 1111.2,489.9 1113.7,489.9 1116.2,489.9 1118.6,489.9 1121.1,489.9 1123.6,496 1126.1,496 1128.5,496 1131,496 1133.5,499.1 1136,502.1 1138.4,508.2 1140.9,508.2 1143.4,508.2 1145.9,508.2 1148.3,508.2 1150.8,508.2 1153.3,502.1 1155.8,499.1 1158.3,499.1 1160.7,499.1 1163.2,502.1 1165.7,508.2 1168.2,508.2 1170.6,508.2 1173.1,508.2 1175.6,508.2 1178.1,508.2 1180.5,508.2 1183,502.1 1185.5,496 1188,496 1190.4,496 1192.9,496 1195.4,496 1197.9,496 1200.3,496 1202.8,496 1205.3,496 1207.8,496 1210.2,496 1212.7,496 1215.2,496 1217.7,496 1220.2,496 1222.6,496 1225.1,496 1227.6,496 1230.1,496 1232.5,496 1235,496 1237.5,496 1240,496 1242.4,493 1244.9,493 1247.4,493 1249.9,493 1252.3,493 1254.8,493 1257.3,493 1259.8,493 1262.2,493 1264.7,493 1267.2,493 1269.7,493 1272.1,493 1274.6,493 1277.1,493 1279.6,493 1282.1,493 1284.5,493 1287,493 1289.5,493 1292,493 1294.4,493 1296.9,493 1299.4,493 1301.9,493 1304.3,493 1306.8,493 1309.3,493 1311.8,493 1314.2,493 1316.7,493 1319.2,493 1321.7,493 1324.1,493 1326.6,493 1329.1,493 1331.6,493 1334,493 1336.5,493 1339,493 1341.5,493 1344,493 1346.4,496 1348.9,496 1351.4,496 1353.9,496 1356.3,496 1358.8,496 1361.3,496 1363.8,496 1366.2,496 1368.7,496 1371.2,496 1373.7,502.1 1376.1,502.1 1378.6,502.1 1381.1,502.1 1383.6,502.1 1386,503.9 1388.5,502.1 1391,502.1 1393.5,496 1395.9,496 1398.4,496 1400.9,493 1403.4,493 1405.9,493 1408.3,493 1410.8,493 1413.3,493 1415.8,493 1418.2,493 1420.7,493 1423.2,493 1425.7,493 1428.1,493 1430.6,493 1433.1,493 1435.6,496 1438,496 1438,514.3 101,514.3" fill="#6ecb3f" fill-opacity="0.56"/>
<polygon points="101,447.3 103.5,447.3 106,447.3 108.4,447.3 110.9,447.3 113.4,450.3 115.9,450.3 118.3,450.3 120.8,450.3 123.3,450.3 125.8,444.2 128.2,444.2 130.7,444.2 133.2,444.2 135.7,444.2 138.1,444.2 140.6,444.2 143.1,444.2 145.6,447.3 148,447.3 150.5,447.3 153,444.2 155.5,444.2 157.9,444.2 160.4,444.2 162.9,441.2 165.4,441.2 167.9,441.2 170.3,441.2 172.8,441.2 175.3,441.2 177.8,441.2 180.2,441.2 182.7,441.2 185.2,441.2 187.7,441.2 190.1,441.2 192.6,441.2 195.1,441.2 197.6,441.2 200,441.2 202.5,441.2 205,441.2 207.5,441.2 209.9,444.2 212.4,441.2 214.9,441.2 217.4,441.2 219.8,441.2 222.3,441.2 224.8,441.2 227.3,441.2 229.8,441.2 232.2,441.2 234.7,441.2 237.2,441.2 239.7,441.2 242.1,447.3 244.6,441.2 247.1,441.2 249.6,441.2 252,441.2 254.5,441.2 257,438.1 259.5,432.1 261.9,432.1 264.4,435.1 266.9,435.1 269.4,435.1 271.8,435.1 274.3,435.1 276.8,435.1 279.3,441.2 281.7,441.2 284.2,441.2 286.7,444.2 289.2,447.3 291.7,453.4 294.1,453.4 296.6,450.3 299.1,456.4 301.6,456.4 304,456.4 306.5,459.5 309,459.5 311.5,459.5 313.9,459.5 316.4,459.5 318.9,462.5 321.4,462.5 323.8,462.5 326.3,462.5 328.8,462.5 331.3,456.4 333.7,456.4 336.2,453.4 338.7,453.4 341.2,453.4 343.6,453.4 346.1,447.3 348.6,447.3 351.1,447.3 353.6,444.2 356,444.2 358.5,444.2 361,444.2 363.5,444.2 365.9,444.2 368.4,444.2 370.9,444.2 373.4,444.2 375.8,444.2 378.3,444.2 380.8,444.2 383.3,444.2 385.7,444.2 388.2,444.2 390.7,444.2 393.2,444.2 395.6,444.2 398.1,444.2 400.6,444.2 403.1,444.2 405.5,444.2 408,444.2 410.5,441.2 413,441.2 415.5,441.2 417.9,441.2 420.4,441.2 422.9,441.2 425.4,438.1 427.8,438.1 430.3,438.1 432.8,438.1 435.3,441.2 437.7,441.2 440.2,441.2 442.7,441.2 445.2,441.2 447.6,441.2 450.1,441.2 452.6,441.2 455.1,441.2 457.5,438.1 460,438.1 462.5,438.1 465,438.1 467.4,438.1 469.9,438.1 472.4,438.1 474.9,438.1 477.4,438.1 479.8,438.1 482.3,438.1 484.8,441.2 487.3,441.2 489.7,441.2 492.2,441.2 494.7,438.1 497.2,438.1 499.6,438.1 502.1,438.1 504.6,438.1 507.1,438.1 509.5,438.1 512,441.2 514.5,441.2 517,438.1 519.4,438.1 521.9,438.1 524.4,438.1 526.9,438.1 529.3,438.1 531.8,438.1 534.3,438.1 536.8,438.1 539.3,438.1 541.7,438.1 544.2,438.1 546.7,438.1 549.2,438.1 551.6,438.1 554.1,438.1 556.6,438.1 559.1,438.1 561.5,438.1 564,438.1 566.5,438.1 569,438.1 571.4,438.1 573.9,438.1 576.4,438.1 578.9,438.1 581.3,438.1 583.8,438.1 586.3,438.1 588.8,438.1 591.2,438.1 593.7,438.1 596.2,438.1 598.7,438.1 601.2,438.1 603.6,438.1 606.1,441.2 608.6,441.2 611.1,441.2 613.5,441.2 616,441.2 618.5,441.2 621,441.2 623.4,441.2 625.9,441.2 628.4,441.2 630.9,441.2 633.3,438.1 635.8,438.1 638.3,438.1 640.8,438.1 643.2,438.1 645.7,438.1 648.2,435.1 650.7,435.1 653.1,435.1 655.6,435.1 658.1,435.1 660.6,435.1 663.1,435.1 665.5,435.1 668,435.1 670.5,435.1 673,435.1 675.4,435.1 677.9,435.1 680.4,435.1 682.9,435.1 685.3,435.1 687.8,435.1 690.3,435.1 692.8,435.1 695.2,435.1 697.7,435.1 700.2,435.1 702.7,435.1 705.1,435.1 707.6,435.1 710.1,435.1 712.6,435.1 715,435.1 717.5,435.1 720,435.1 722.5,438.1 725,438.1 727.4,438.1 729.9,438.1 732.4,438.1 734.9,438.1 737.3,438.1 739.8,438.1 742.3,438.1 744.8,438.1 747.2,438.1 749.7,441.2 752.2,438.1 754.7,438.1 757.1,438.1 759.6,435.1 762.1,435.1 764.6,435.1 767,435.1 769.5,435.1 772,435.1 774.5,435.1 776.9,435.1 779.4,435.1 781.9,435.1 784.4,435.1 786.9,435.1 789.3,435.1 791.8,435.1 794.3,435.1 796.8,435.1 799.2,438.1 801.7,438.1 804.2,438.1 806.7,438.1 809.1,438.1 811.6,438.1 814.1,438.1 816.6,438.1 819,438.1 821.5,438.1 824,438.1 826.5,438.1 828.9,438.1 831.4,438.1 833.9,438.1 836.4,438.1 838.8,438.1 841.3,438.1 843.8,438.1 846.3,438.1 848.8,438.1 851.2,438.1 853.7,438.1 856.2,438.1 858.7,438.1 861.1,438.1 863.6,438.1 866.1,438.1 868.6,438.1 871,438.1 873.5,438.1 876,438.1 878.5,438.1 880.9,438.1 883.4,441.2 885.9,441.2 888.4,441.2 890.8,441.2 893.3,441.2 895.8,441.2 898.3,441.2 900.7,441.2 903.2,444.2 905.7,444.2 908.2,444.2 910.7,444.2 913.1,444.2 915.6,444.2 918.1,438.1 920.6,438.1 923,438.1 925.5,438.1 928,441.2 930.5,444.2 932.9,444.2 935.4,444.2 937.9,444.2 940.4,444.2 942.8,444.2 945.3,444.2 947.8,444.2 950.3,444.2 952.7,444.2 955.2,444.2 957.7,444.2 960.2,441.2 962.6,441.2 965.1,441.2 967.6,441.2 970.1,441.2 972.6,444.2 975,447.3 977.5,447.3 980,447.3 982.5,447.3 984.9,447.3 987.4,447.3 989.9,447.3 992.4,450.3 994.8,450.3 997.3,450.3 999.8,450.3 1002.3,450.3 1004.7,450.3 1007.2,450.3 1009.7,450.3 1012.2,450.3 1014.6,450.3 1017.1,450.3 1019.6,450.3 1022.1,450.3 1024.5,450.3 1027,450.3 1029.5,450.3 1032,450.3 1034.5,450.3 1036.9,447.3 1039.4,450.3 1041.9,450.3 1044.4,447.3 1046.8,447.3 1049.3,447.3 1051.8,450.3 1054.3,450.3 1056.7,450.3 1059.2,453.4 1061.7,450.3 1064.2,447.3 1066.6,447.3 1069.1,447.3 1071.6,447.3 1074.1,447.3 1076.5,447.3 1079,444.2 1081.5,444.2 1084,444.2 1086.4,444.2 1088.9,444.2 1091.4,447.3 1093.9,447.3 1096.4,447.3 1098.8,447.3 1101.3,447.3 1103.8,447.3 1106.3,447.3 1108.7,450.3 1111.2,450.3 1113.7,450.3 1116.2,450.3 1118.6,450.3 1121.1,450.3 1123.6,456.4 1126.1,456.4 1128.5,456.4 1131,456.4 1133.5,459.5 1136,462.5 1138.4,468.6 1140.9,468.6 1143.4,468.6 1145.9,468.6 1148.3,468.6 1150.8,468.6 1153.3,462.5 1155.8,459.5 1158.3,459.5 1160.7,459.5 1163.2,462.5 1165.7,468.6 1168.2,468.6 1170.6,468.6 1173.1,468.6 1175.6,468.6 1178.1,468.6 1180.5,468.6 1183,465.6 1185.5,456.4 1188,456.4 1190.4,456.4 1192.9,456.4 1195.4,456.4 1197.9,456.4 1200.3,456.4 1202.8,456.4 1205.3,456.4 1207.8,456.4 1210.2,456.4 1212.7,456.4 1215.2,456.4 1217.7,456.4 1220.2,456.4 1222.6,456.4 1225.1,456.4 1227.6,456.4 1230.1,456.4 1232.5,456.4 1235,456.4 1237.5,456.4 1240,456.4 1242.4,450.3 1244.9,450.3 1247.4,450.3 1249.9,450.3 1252.3,450.3 1254.8,450.3 1257.3,453.4 1259.8,453.4 1262.2,453.4 1264.7,453.4 1267.2,453.4 1269.7,453.4 1272.1,453.4 1274.6,453.4 1277.1,453.4 1279.6,453.4 1282.1,453.4 1284.5,453.4 1287,453.4 1289.5,453.4 1292,453.4 1294.4,453.4 1296.9,453.4 1299.4,453.4 1301.9,456.4 1304.3,456.4 1306.8,456.4 1309.3,456.4 1311.8,456.4 1314.2,453.4 1316.7,453.4 1319.2,453.4 1321.7,453.4 1324.1,453.4 1326.6,453.4 1329.1,453.4 1331.6,453.4 1334,453.4 1336.5,453.4 1339,453.4 1341.5,453.4 1344,453.4 1346.4,456.4 1348.9,456.4 1351.4,456.4 1353.9,456.4 1356.3,453.4 1358.8,453.4 1361.3,453.4 1363.8,453.4 1366.2,453.4 1368.7,453.4 1371.2,453.4 1373.7,459.5 1376.1,459.5 1378.6,459.5 1381.1,459.5 1383.6,459.5 1386,462.5 1388.5,459.5 1391,459.5 1393.5,453.4 1395.9,453.4 1398.4,456.4 1400.9,453.4 1403.4,453.4 1405.9,453.4 1408.3,453.4 1410.8,453.4 1413.3,453.4 1415.8,453.4 1418.2,453.4 1420.7,453.4 1423.2,453.4 1425.7,453.4 1428.1,453.4 1430.6,453.4 1433.1,453.4 1435.6,456.4 1438,456.4 1438,496 1435.6,496 1433.1,493 1430.6,493 1428.1,493 1425.7,493 1423.2,493 1420.7,493 1418.2,493 1415.8,493 1413.3,493 1410.8,493 1408.3,493 1405.9,493 1403.4,493 1400.9,493 1398.4,496 1395.9,496 1393.5,496 1391,502.1 1388.5,502.1 1386,503.9 1383.6,502.1 1381.1,502.1 1378.6,502.1 1376.1,502.1 1373.7,502.1 1371.2,496 1368.7,496 1366.2,496 1363.8,496 1361.3,496 1358.8,496 1356.3,496 1353.9,496 1351.4,496 1348.9,496 1346.4,496 1344,493 1341.5,493 1339,493 1336.5,493 1334,493 1331.6,493 1329.1,493 1326.6,493 1324.1,493 1321.7,493 1319.2,493 1316.7,493 1314.2,493 1311.8,493 1309.3,493 1306.8,493 1304.3,493 1301.9,493 1299.4,493 1296.9,493 1294.4,493 1292,493 1289.5,493 1287,493 1284.5,493 1282.1,493 1279.6,493 1277.1,493 1274.6,493 1272.1,493 1269.7,493 1267.2,493 1264.7,493 1262.2,493 1259.8,493 1257.3,493 1254.8,493 1252.3,493 1249.9,493 1247.4,493 1244.9,493 1242.4,493 1240,496 1237.5,496 1235,496 1232.5,496 1230.1,496 1227.6,496 1225.1,496 1222.6,496 1220.2,496 1217.7,496 1215.2,496 1212.7,496 1210.2,496 1207.8,496 1205.3,496 1202.8,496 1200.3,496 1197.9,496 1195.4,496 1192.9,496 1190.4,496 1188,496 1185.5,496 1183,502.1 1180.5,508.2 1178.1,508.2 1175.6,508.2 1173.1,508.2 1170.6,508.2 1168.2,508.2 1165.7,508.2 1163.2,502.1 1160.7,499.1 1158.3,499.1 1155.8,499.1 1153.3,502.1 1150.8,508.2 1148.3,508.2 1145.9,508.2 1143.4,508.2 1140.9,508.2 1138.4,508.2 1136,502.1 1133.5,499.1 1131,496 1128.5,496 1126.1,496 1123.6,496 1121.1,489.9 1118.6,489.9 1116.2,489.9 1113.7,489.9 1111.2,489.9 1108.7,489.9 1106.3,489.9 1103.8,489.9 1101.3,489.9 1098.8,489.9 1096.4,489.9 1093.9,489.9 1091.4,489.9 1088.9,489.9 1086.4,489.9 1084,489.9 1081.5,489.9 1079,489.9 1076.5,493 1074.1,493 1071.6,493 1069.1,493 1066.6,493 1064.2,493 1061.7,493 1059.2,496 1056.7,493 1054.3,493 1051.8,493 1049.3,493 1046.8,493 1044.4,493 1041.9,496 1039.4,496 1036.9,493 1034.5,496 1032,496 1029.5,496 1027,496 1024.5,496 1022.1,496 1019.6,496 1017.1,496 1014.6,496 1012.2,496 1009.7,496 1007.2,496 1004.7,496 1002.3,496 999.8,496 997.3,496 994.8,496 992.4,496 989.9,496 987.4,496 984.9,496 982.5,496 980,496 977.5,496 975,496 972.6,496 970.1,493 967.6,493 965.1,493 962.6,493 960.2,493 957.7,493 955.2,493 952.7,493 950.3,493 947.8,493 945.3,493 942.8,493 940.4,493 937.9,493 935.4,493 932.9,493 930.5,493 928,493 925.5,493 923,489.9 920.6,489.9 918.1,489.9 915.6,489.9 913.1,489.9 910.7,489.9 908.2,489.9 905.7,489.9 903.2,489.9 900.7,489.9 898.3,489.9 895.8,489.9 893.3,489.9 890.8,489.9 888.4,489.9 885.9,489.9 883.4,489.9 880.9,489.9 878.5,489.9 876,489.9 873.5,489.9 871,489.9 868.6,489.9 866.1,489.9 863.6,489.9 861.1,489.9 858.7,489.9 856.2,489.9 853.7,489.9 851.2,489.9 848.8,489.9 846.3,489.9 843.8,489.9 841.3,489.9 838.8,489.9 836.4,489.9 833.9,489.9 831.4,489.9 828.9,489.9 826.5,489.9 824,489.9 821.5,489.9 819,489.9 816.6,489.9 814.1,489.9 811.6,489.9 809.1,489.9 806.7,489.9 804.2,489.9 801.7,489.9 799.2,489.9 796.8,489.9 794.3,489.9 791.8,489.9 789.3,489.9 786.9,489.9 784.4,489.9 781.9,489.9 779.4,489.9 776.9,489.9 774.5,489.9 772,489.9 769.5,489.9 767,489.9 764.6,489.9 762.1,489.9 759.6,489.9 757.1,493 754.7,493 752.2,493 749.7,496 747.2,493 744.8,493 742.3,493 739.8,493 737.3,493 734.9,493 732.4,493 729.9,493 727.4,493 725,493 722.5,493 720,489.9 717.5,489.9 715,489.9 712.6,489.9 710.1,489.9 707.6,489.9 705.1,489.9 702.7,489.9 700.2,489.9 697.7,489.9 695.2,489.9 692.8,489.9 690.3,489.9 687.8,489.9 685.3,489.9 682.9,489.9 680.4,489.9 677.9,489.9 675.4,489.9 673,489.9 670.5,489.9 668,489.9 665.5,489.9 663.1,489.9 660.6,489.9 658.1,489.9 655.6,489.9 653.1,489.9 650.7,489.9 648.2,489.9 645.7,489.9 643.2,489.9 640.8,489.9 638.3,489.9 635.8,489.9 633.3,489.9 630.9,489.9 628.4,489.9 625.9,489.9 623.4,489.9 621,489.9 618.5,489.9 616,489.9 613.5,489.9 611.1,489.9 608.6,489.9 606.1,489.9 603.6,489.9 601.2,489.9 598.7,489.9 596.2,489.9 593.7,489.9 591.2,489.9 588.8,489.9 586.3,489.9 583.8,489.9 581.3,489.9 578.9,489.9 576.4,489.9 573.9,489.9 571.4,489.9 569,489.9 566.5,489.9 564,489.9 561.5,489.9 559.1,489.9 556.6,489.9 554.1,489.9 551.6,489.9 549.2,489.9 546.7,489.9 544.2,489.9 541.7,489.9 539.3,489.9 536.8,489.9 534.3,489.9 531.8,489.9 529.3,489.9 526.9,489.9 524.4,489.9 521.9,489.9 519.4,489.9 517,489.9 514.5,489.9 512,493 509.5,489.9 507.1,489.9 504.6,489.9 502.1,489.9 499.6,489.9 497.2,489.9 494.7,489.9 492.2,489.9 489.7,489.9 487.3,489.9 484.8,489.9 482.3,489.9 479.8,489.9 477.4,489.9 474.9,489.9 472.4,489.9 469.9,489.9 467.4,489.9 465,489.9 462.5,489.9 460,489.9 457.5,489.9 455.1,489.9 452.6,489.9 450.1,489.9 447.6,489.9 445.2,489.9 442.7,489.9 440.2,489.9 437.7,489.9 435.3,489.9 432.8,489.9 430.3,489.9 427.8,489.9 425.4,489.9 422.9,489.9 420.4,489.9 417.9,489.9 415.5,489.9 413,489.9 410.5,489.9 408,489.9 405.5,489.9 403.1,489.9 400.6,489.9 398.1,489.9 395.6,489.9 393.2,489.9 390.7,489.9 388.2,489.9 385.7,489.9 383.3,489.9 380.8,489.9 378.3,489.9 375.8,489.9 373.4,489.9 370.9,489.9 368.4,489.9 365.9,489.9 363.5,489.9 361,489.9 358.5,489.9 356,489.9 353.6,489.9 351.1,489.9 348.6,489.9 346.1,489.9 343.6,496 341.2,496 338.7,496 336.2,496 333.7,496 331.3,496 328.8,505.2 326.3,505.2 323.8,505.2 321.4,505.2 318.9,505.2 316.4,505.2 313.9,505.2 311.5,505.2 309,505.2 306.5,505.2 304,505.2 301.6,505.2 299.1,505.2 296.6,499.1 294.1,499.1 291.7,499.1 289.2,496 286.7,489.9 284.2,489.9 281.7,489.9 279.3,489.9 276.8,489.9 274.3,489.9 271.8,489.9 269.4,489.9 266.9,489.9 264.4,489.9 261.9,486.9 259.5,486.9 257,489.9 254.5,489.9 252,489.9 249.6,489.9 247.1,489.9 244.6,489.9 242.1,489.9 239.7,489.9 237.2,489.9 234.7,489.9 232.2,489.9 229.8,489.9 227.3,489.9 224.8,489.9 222.3,489.9 219.8,489.9 217.4,489.9 214.9,489.9 212.4,489.9 209.9,493 207.5,489.9 205,489.9 202.5,489.9 200,489.9 197.6,489.9 195.1,489.9 192.6,489.9 190.1,489.9 187.7,489.9 185.2,489.9 182.7,489.9 180.2,489.9 177.8,489.9 175.3,489.9 172.8,489.9 170.3,489.9 167.9,489.9 165.4,489.9 162.9,489.9 160.4,493 157.9,493 155.5,493 153,493 150.5,496 148,496 145.6,496 143.1,493 140.6,493 138.1,493 135.7,493 133.2,493 130.7,493 128.2,493 125.8,493 123.3,499.1 120.8,499.1 118.3,499.1 115.9,499.1 113.4,499.1 110.9,499.1 108.4,499.1 106,499.1 103.5,499.1 101,499.1" fill="#ef6534" fill-opacity="0.56"/>
<polygon points="1207.8,453.4 1210.2,453.4 1212.7,453.4 1215.2,453.4 1217.7,453.4 1220.2,453.4 1222.6,453.4 1225.1,453.4 1227.6,453.4 1230.1,453.4 1232.5,453.4 1235,453.4 1237.5,453.4 1240,453.4 1242.4,447.3 1244.9,447.3 1247.4,447.3 1249.9,447.3 1252.3,447.3 1254.8,447.3 1257.3,450.3 1259.8,450.3 1262.2,450.3 1264.7,450.3 1267.2,450.3 1269.7,450.3 1272.1,450.3 1274.6,450.3 1277.1,450.3 1279.6,450.3 1282.1,450.3 1284.5,450.3 1287,450.3 1289.5,450.3 1292,450.3 1294.4,450.3 1296.9,450.3 1299.4,450.3 1301.9,453.4 1304.3,453.4 1306.8,453.4 1309.3,453.4 1311.8,453.4 1314.2,450.3 1316.7,450.3 1319.2,450.3 1321.7,450.3 1324.1,450.3 1326.6,450.3 1329.1,450.3 1331.6,450.3 1334,450.3 1334,453.4 1331.6,453.4 1329.1,453.4 1326.6,453.4 1324.1,453.4 1321.7,453.4 1319.2,453.4 1316.7,453.4 1314.2,453.4 1311.8,456.4 1309.3,456.4 1306.8,456.4 1304.3,456.4 1301.9,456.4 1299.4,453.4 1296.9,453.4 1294.4,453.4 1292,453.4 1289.5,453.4 1287,453.4 1284.5,453.4 1282.1,453.4 1279.6,453.4 1277.1,453.4 1274.6,453.4 1272.1,453.4 1269.7,453.4 1267.2,453.4 1264.7,453.4 1262.2,453.4 1259.8,453.4 1257.3,453.4 1254.8,450.3 1252.3,450.3 1249.9,450.3 1247.4,450.3 1244.9,450.3 1242.4,450.3 1240,456.4 1237.5,456.4 1235,456.4 1232.5,456.4 1230.1,456.4 1227.6,456.4 1225.1,456.4 1222.6,456.4 1220.2,456.4 1217.7,456.4 1215.2,456.4 1212.7,456.4 1210.2,456.4 1207.8,456.4" fill="#6b9bb0" fill-opacity="0.6"/>
<path d="M1207.8 453.4L1210.2 453.4L1212.7 453.4L1215.2 453.4L1217.7 453.4L1220.2 453.4L1222.6 453.4L1225.1 453.4L1227.6 453.4L1230.1 453.4L1232.5 453.4L1235 453.4L1237.5 453.4L1240 453.4L1242.4 447.3L1244.9 447.3L1247.4 447.3L1249.9 447.3L1252.3 447.3L1254.8 447.3L1257.3 450.3L1259.8 450.3L1262.2 450.3L1264.7 450.3L1267.2 450.3L1269.7 450.3L1272.1 450.3L1274.6 450.3L1277.1 450.3L1279.6 450.3L1282.1 450.3L1284.5 450.3L1287 450.3L1289.5 450.3L1292 450.3L1294.4 450.3L1296.9 450.3L1299.4 450.3L1301.9 453.4L1304.3 453.4L1306.8 453.4L1309.3 453.4L1311.8 453.4L1314.2 450.3L1316.7 450.3L1319.2 450.3L1321.7 450.3L1324.1 450.3L1326.6 450.3L1329.1 450.3L1331.6 450.3L1334 450.3" fill="none" stroke="#6b9bb0" stroke-width="2.2" stroke-linejoin="round"/>
<path d="M1207.8 453.4h0M1210.2 453.4h0M1212.7 453.4h0M1215.2 453.4h0M1217.7 453.4h0M1220.2 453.4h0M1222.6 453.4h0M1225.1 453.4h0M1227.6 453.4h0M1230.1 453.4h0M1232.5 453.4h0M1235 453.4h0M1237.5 453.4h0M1240 453.4h0M1242.4 447.3h0M1244.9 447.3h0M1247.4 447.3h0M1249.9 447.3h0M1252.3 447.3h0M1254.8 447.3h0M1257.3 450.3h0M1259.8 450.3h0M1262.2 450.3h0M1267.2 450.3h0M1272.1 450.3h0M1277.1 450.3h0M1279.6 450.3h0M1282.1 450.3h0M1284.5 450.3h0M1287 450.3h0M1289.5 450.3h0M1292 450.3h0M1294.4 450.3h0M1296.9 450.3h0M1299.4 450.3h0M1301.9 453.4h0M1304.3 453.4h0M1306.8 453.4h0M1309.3 453.4h0M1311.8 453.4h0M1314.2 450.3h0M1316.7 450.3h0M1319.2 450.3h0M1321.7 450.3h0M1324.1 450.3h0M1326.6 450.3h0M1329.1 450.3h0M1331.6 450.3h0M1334 450.3h0" fill="none" stroke="#6b9bb0" stroke-width="5.2" stroke-linecap="round"/>
<path d="M101 447.3L103.5 447.3L106 447.3L108.4 447.3L110.9 447.3L113.4 450.3L115.9 450.3L118.3 450.3L120.8 450.3L123.3 450.3L125.8 444.2L128.2 444.2L130.7 444.2L133.2 444.2L135.7 444.2L138.1 444.2L140.6 444.2L143.1 444.2L145.6 447.3L148 447.3L150.5 447.3L153 444.2L155.5 444.2L157.9 444.2L160.4 444.2L162.9 441.2L165.4 441.2L167.9 441.2L170.3 441.2L172.8 441.2L175.3 441.2L177.8 441.2L180.2 441.2L182.7 441.2L185.2 441.2L187.7 441.2L190.1 441.2L192.6 441.2L195.1 441.2L197.6 441.2L200 441.2L202.5 441.2L205 441.2L207.5 441.2L209.9 444.2L212.4 441.2L214.9 441.2L217.4 441.2L219.8 441.2L222.3 441.2L224.8 441.2L227.3 441.2L229.8 441.2L232.2 441.2L234.7 441.2L237.2 441.2L239.7 441.2L242.1 447.3L244.6 441.2L247.1 441.2L249.6 441.2L252 441.2L254.5 441.2L257 438.1L259.5 432.1L261.9 432.1L264.4 435.1L266.9 435.1L269.4 435.1L271.8 435.1L274.3 435.1L276.8 435.1L279.3 441.2L281.7 441.2L284.2 441.2L286.7 444.2L289.2 447.3L291.7 453.4L294.1 453.4L296.6 450.3L299.1 456.4L301.6 456.4L304 456.4L306.5 459.5L309 459.5L311.5 459.5L313.9 459.5L316.4 459.5L318.9 462.5L321.4 462.5L323.8 462.5L326.3 462.5L328.8 462.5L331.3 456.4L333.7 456.4L336.2 453.4L338.7 453.4L341.2 453.4L343.6 453.4L346.1 447.3L348.6 447.3L351.1 447.3L353.6 444.2L356 444.2L358.5 444.2L361 444.2L363.5 444.2L365.9 444.2L368.4 444.2L370.9 444.2L373.4 444.2L375.8 444.2L378.3 444.2L380.8 444.2L383.3 444.2L385.7 444.2L388.2 444.2L390.7 444.2L393.2 444.2L395.6 444.2L398.1 444.2L400.6 444.2L403.1 444.2L405.5 444.2L408 444.2L410.5 441.2L413 441.2L415.5 441.2L417.9 441.2L420.4 441.2L422.9 441.2L425.4 438.1L427.8 438.1L430.3 438.1L432.8 438.1L435.3 441.2L437.7 441.2L440.2 441.2L442.7 441.2L445.2 441.2L447.6 441.2L450.1 441.2L452.6 441.2L455.1 441.2L457.5 438.1L460 438.1L462.5 438.1L465 438.1L467.4 438.1L469.9 438.1L472.4 438.1L474.9 438.1L477.4 438.1L479.8 438.1L482.3 438.1L484.8 441.2L487.3 441.2L489.7 441.2L492.2 441.2L494.7 438.1L497.2 438.1L499.6 438.1L502.1 438.1L504.6 438.1L507.1 438.1L509.5 438.1L512 441.2L514.5 441.2L517 438.1L519.4 438.1L521.9 438.1L524.4 438.1L526.9 438.1L529.3 438.1L531.8 438.1L534.3 438.1L536.8 438.1L539.3 438.1L541.7 438.1L544.2 438.1L546.7 438.1L549.2 438.1L551.6 438.1L554.1 438.1L556.6 438.1L559.1 438.1L561.5 438.1L564 438.1L566.5 438.1L569 438.1L571.4 438.1L573.9 438.1L576.4 438.1L578.9 438.1L581.3 438.1L583.8 438.1L586.3 438.1L588.8 438.1L591.2 438.1L593.7 438.1L596.2 438.1L598.7 438.1L601.2 438.1L603.6 438.1L606.1 441.2L608.6 441.2L611.1 441.2L613.5 441.2L616 441.2L618.5 441.2L621 441.2L623.4 441.2L625.9 441.2L628.4 441.2L630.9 441.2L633.3 438.1L635.8 438.1L638.3 438.1L640.8 438.1L643.2 438.1L645.7 438.1L648.2 435.1L650.7 435.1L653.1 435.1L655.6 435.1L658.1 435.1L660.6 435.1L663.1 435.1L665.5 435.1L668 435.1L670.5 435.1L673 435.1L675.4 435.1L677.9 435.1L680.4 435.1L682.9 435.1L685.3 435.1L687.8 435.1L690.3 435.1L692.8 435.1L695.2 435.1L697.7 435.1L700.2 435.1L702.7 435.1L705.1 435.1L707.6 435.1L710.1 435.1L712.6 435.1L715 435.1L717.5 435.1L720 435.1L722.5 438.1L725 438.1L727.4 438.1L729.9 438.1L732.4 438.1L734.9 438.1L737.3 438.1L739.8 438.1L742.3 438.1L744.8 438.1L747.2 438.1L749.7 441.2L752.2 438.1L754.7 438.1L757.1 438.1L759.6 435.1L762.1 435.1L764.6 435.1L767 435.1L769.5 435.1L772 435.1L774.5 435.1L776.9 435.1L779.4 435.1L781.9 435.1L784.4 435.1L786.9 435.1L789.3 435.1L791.8 435.1L794.3 435.1L796.8 435.1L799.2 438.1L801.7 438.1L804.2 438.1L806.7 438.1L809.1 438.1L811.6 438.1L814.1 438.1L816.6 438.1L819 438.1L821.5 438.1L824 438.1L826.5 438.1L828.9 438.1L831.4 438.1L833.9 438.1L836.4 438.1L838.8 438.1L841.3 438.1L843.8 438.1L846.3 438.1L848.8 438.1L851.2 438.1L853.7 438.1L856.2 438.1L858.7 438.1L861.1 438.1L863.6 438.1L866.1 438.1L868.6 438.1L871 438.1L873.5 438.1L876 438.1L878.5 438.1L880.9 438.1L883.4 441.2L885.9 441.2L888.4 441.2L890.8 441.2L893.3 441.2L895.8 441.2L898.3 441.2L900.7 441.2L903.2 444.2L905.7 444.2L908.2 444.2L910.7 444.2L913.1 444.2L915.6 444.2L918.1 438.1L920.6 438.1L923 438.1L925.5 438.1L928 441.2L930.5 444.2L932.9 444.2L935.4 444.2L937.9 444.2L940.4 444.2L942.8 444.2L945.3 444.2L947.8 444.2L950.3 444.2L952.7 444.2L955.2 444.2L957.7 444.2L960.2 441.2L962.6 441.2L965.1 441.2L967.6 441.2L970.1 441.2L972.6 444.2L975 447.3L977.5 447.3L980 447.3L982.5 447.3L984.9 447.3L987.4 447.3L989.9 447.3L992.4 450.3L994.8 450.3L997.3 450.3L999.8 450.3L1002.3 450.3L1004.7 450.3L1007.2 450.3L1009.7 450.3L1012.2 450.3L1014.6 450.3L1017.1 450.3L1019.6 450.3L1022.1 450.3L1024.5 450.3L1027 450.3L1029.5 450.3L1032 450.3L1034.5 450.3L1036.9 447.3L1039.4 450.3L1041.9 450.3L1044.4 447.3L1046.8 447.3L1049.3 447.3L1051.8 450.3L1054.3 450.3L1056.7 450.3L1059.2 453.4L1061.7 450.3L1064.2 447.3L1066.6 447.3L1069.1 447.3L1071.6 447.3L1074.1 447.3L1076.5 447.3L1079 444.2L1081.5 444.2L1084 444.2L1086.4 444.2L1088.9 444.2L1091.4 447.3L1093.9 447.3L1096.4 447.3L1098.8 447.3L1101.3 447.3L1103.8 447.3L1106.3 447.3L1108.7 450.3L1111.2 450.3L1113.7 450.3L1116.2 450.3L1118.6 450.3L1121.1 450.3L1123.6 456.4L1126.1 456.4L1128.5 456.4L1131 456.4L1133.5 459.5L1136 462.5L1138.4 468.6L1140.9 468.6L1143.4 468.6L1145.9 468.6L1148.3 468.6L1150.8 468.6L1153.3 462.5L1155.8 459.5L1158.3 459.5L1160.7 459.5L1163.2 462.5L1165.7 468.6L1168.2 468.6L1170.6 468.6L1173.1 468.6L1175.6 468.6L1178.1 468.6L1180.5 468.6L1183 465.6L1185.5 456.4L1188 456.4L1190.4 456.4L1192.9 456.4L1195.4 456.4L1197.9 456.4L1200.3 456.4L1202.8 456.4L1205.3 456.4L1207.8 456.4L1210.2 456.4L1212.7 456.4L1215.2 456.4L1217.7 456.4L1220.2 456.4L1222.6 456.4L1225.1 456.4L1227.6 456.4L1230.1 456.4L1232.5 456.4L1235 456.4L1237.5 456.4L1240 456.4L1242.4 450.3L1244.9 450.3L1247.4 450.3L1249.9 450.3L1252.3 450.3L1254.8 450.3L1257.3 453.4L1259.8 453.4L1262.2 453.4L1264.7 453.4L1267.2 453.4L1269.7 453.4L1272.1 453.4L1274.6 453.4L1277.1 453.4L1279.6 453.4L1282.1 453.4L1284.5 453.4L1287 453.4L1289.5 453.4L1292 453.4L1294.4 453.4L1296.9 453.4L1299.4 453.4L1301.9 456.4L1304.3 456.4L1306.8 456.4L1309.3 456.4L1311.8 456.4L1314.2 453.4L1316.7 453.4L1319.2 453.4L1321.7 453.4L1324.1 453.4L1326.6 453.4L1329.1 453.4L1331.6 453.4L1334 453.4L1336.5 453.4L1339 453.4L1341.5 453.4L1344 453.4L1346.4 456.4L1348.9 456.4L1351.4 456.4L1353.9 456.4L1356.3 453.4L1358.8 453.4L1361.3 453.4L1363.8 453.4L1366.2 453.4L1368.7 453.4L1371.2 453.4L1373.7 459.5L1376.1 459.5L1378.6 459.5L1381.1 459.5L1383.6 459.5L1386 462.5L1388.5 459.5L1391 459.5L1393.5 453.4L1395.9 453.4L1398.4 456.4L1400.9 453.4L1403.4 453.4L1405.9 453.4L1408.3 453.4L1410.8 453.4L1413.3 453.4L1415.8 453.4L1418.2 453.4L1420.7 453.4L1423.2 453.4L1425.7 453.4L1428.1 453.4L1430.6 453.4L1433.1 453.4L1435.6 456.4L1438 456.4" fill="none" stroke="#ef6534" stroke-width="2.2" stroke-linejoin="round"/>
<path d="M101 447.3h0M103.5 447.3h0M106 447.3h0M108.4 447.3h0M110.9 447.3h0M113.4 450.3h0M115.9 450.3h0M118.3 450.3h0M120.8 450.3h0M125.8 444.2h0M130.7 444.2h0M135.7 444.2h0M143.1 444.2h0M148 447.3h0M150.5 447.3h0M153 444.2h0M155.5 444.2h0M157.9 444.2h0M160.4 444.2h0M162.9 441.2h0M165.4 441.2h0M167.9 441.2h0M170.3 441.2h0M172.8 441.2h0M175.3 441.2h0M177.8 441.2h0M182.7 441.2h0M185.2 441.2h0M187.7 441.2h0M190.1 441.2h0M195.1 441.2h0M197.6 441.2h0M200 441.2h0M202.5 441.2h0M205 441.2h0M207.5 441.2h0M209.9 444.2h0M212.4 441.2h0M214.9 441.2h0M217.4 441.2h0M219.8 441.2h0M222.3 441.2h0M224.8 441.2h0M227.3 441.2h0M229.8 441.2h0M232.2 441.2h0M234.7 441.2h0M237.2 441.2h0M239.7 441.2h0M242.1 447.3h0M244.6 441.2h0M247.1 441.2h0M249.6 441.2h0M252 441.2h0M254.5 441.2h0M257 438.1h0M259.5 432.1h0M261.9 432.1h0M264.4 435.1h0M266.9 435.1h0M269.4 435.1h0M271.8 435.1h0M274.3 435.1h0M276.8 435.1h0M279.3 441.2h0M281.7 441.2h0M284.2 441.2h0M286.7 444.2h0M289.2 447.3h0M291.7 453.4h0M294.1 453.4h0M296.6 450.3h0M299.1 456.4h0M301.6 456.4h0M304 456.4h0M306.5 459.5h0M309 459.5h0M311.5 459.5h0M316.4 459.5h0M321.4 462.5h0M323.8 462.5h0M326.3 462.5h0M328.8 462.5h0M331.3 456.4h0M333.7 456.4h0M336.2 453.4h0M341.2 453.4h0M343.6 453.4h0M346.1 447.3h0M348.6 447.3h0M351.1 447.3h0M353.6 444.2h0M356 444.2h0M358.5 444.2h0M361 444.2h0M363.5 444.2h0M365.9 444.2h0M368.4 444.2h0M373.4 444.2h0M378.3 444.2h0M383.3 444.2h0M385.7 444.2h0M388.2 444.2h0M390.7 444.2h0M393.2 444.2h0M395.6 444.2h0M398.1 444.2h0M400.6 444.2h0M403.1 444.2h0M405.5 444.2h0M408 444.2h0M410.5 441.2h0M413 441.2h0M417.9 441.2h0M420.4 441.2h0M425.4 438.1h0M430.3 438.1h0M432.8 438.1h0M437.7 441.2h0M440.2 441.2h0M445.2 441.2h0M447.6 441.2h0M450.1 441.2h0M452.6 441.2h0M455.1 441.2h0M457.5 438.1h0M460 438.1h0M462.5 438.1h0M465 438.1h0M467.4 438.1h0M469.9 438.1h0M472.4 438.1h0M474.9 438.1h0M479.8 438.1h0M482.3 438.1h0M484.8 441.2h0M487.3 441.2h0M489.7 441.2h0M492.2 441.2h0M494.7 438.1h0M497.2 438.1h0M499.6 438.1h0M502.1 438.1h0M504.6 438.1h0M507.1 438.1h0M509.5 438.1h0M512 441.2h0M514.5 441.2h0M517 438.1h0M519.4 438.1h0M521.9 438.1h0M524.4 438.1h0M526.9 438.1h0M529.3 438.1h0M531.8 438.1h0M534.3 438.1h0M536.8 438.1h0M539.3 438.1h0M541.7 438.1h0M544.2 438.1h0M546.7 438.1h0M549.2 438.1h0M551.6 438.1h0M554.1 438.1h0M556.6 438.1h0M559.1 438.1h0M561.5 438.1h0M564 438.1h0M566.5 438.1h0M569 438.1h0M571.4 438.1h0M573.9 438.1h0M576.4 438.1h0M578.9 438.1h0M581.3 438.1h0M583.8 438.1h0M586.3 438.1h0M588.8 438.1h0M591.2 438.1h0M598.7 438.1h0M601.2 438.1h0M603.6 438.1h0M606.1 441.2h0M608.6 441.2h0M611.1 441.2h0M613.5 441.2h0M616 441.2h0M618.5 441.2h0M621 441.2h0M623.4 441.2h0M625.9 441.2h0M628.4 441.2h0M630.9 441.2h0M633.3 438.1h0M635.8 438.1h0M638.3 438.1h0M640.8 438.1h0M643.2 438.1h0M645.7 438.1h0M648.2 435.1h0M650.7 435.1h0M653.1 435.1h0M655.6 435.1h0M658.1 435.1h0M660.6 435.1h0M663.1 435.1h0M665.5 435.1h0M668 435.1h0M670.5 435.1h0M673 435.1h0M675.4 435.1h0M677.9 435.1h0M680.4 435.1h0M682.9 435.1h0M685.3 435.1h0M687.8 435.1h0M690.3 435.1h0M692.8 435.1h0M695.2 435.1h0M697.7 435.1h0M700.2 435.1h0M702.7 435.1h0M705.1 435.1h0M707.6 435.1h0M710.1 435.1h0M712.6 435.1h0M715 435.1h0M717.5 435.1h0M720 435.1h0M722.5 438.1h0M725 438.1h0M727.4 438.1h0M732.4 438.1h0M737.3 438.1h0M739.8 438.1h0M742.3 438.1h0M744.8 438.1h0M747.2 438.1h0M749.7 441.2h0M752.2 438.1h0M754.7 438.1h0M757.1 438.1h0M759.6 435.1h0M762.1 435.1h0M764.6 435.1h0M767 435.1h0M769.5 435.1h0M772 435.1h0M774.5 435.1h0M776.9 435.1h0M779.4 435.1h0M781.9 435.1h0M784.4 435.1h0M786.9 435.1h0M789.3 435.1h0M791.8 435.1h0M794.3 435.1h0M796.8 435.1h0M799.2 438.1h0M801.7 438.1h0M804.2 438.1h0M806.7 438.1h0M809.1 438.1h0M811.6 438.1h0M814.1 438.1h0M816.6 438.1h0M819 438.1h0M821.5 438.1h0M824 438.1h0M826.5 438.1h0M828.9 438.1h0M831.4 438.1h0M833.9 438.1h0M836.4 438.1h0M838.8 438.1h0M841.3 438.1h0M843.8 438.1h0M846.3 438.1h0M848.8 438.1h0M851.2 438.1h0M853.7 438.1h0M856.2 438.1h0M858.7 438.1h0M861.1 438.1h0M866.1 438.1h0M871 438.1h0M876 438.1h0M878.5 438.1h0M880.9 438.1h0M883.4 441.2h0M885.9 441.2h0M888.4 441.2h0M890.8 441.2h0M893.3 441.2h0M895.8 441.2h0M898.3 441.2h0M900.7 441.2h0M903.2 444.2h0M905.7 444.2h0M908.2 444.2h0M910.7 444.2h0M913.1 444.2h0M915.6 444.2h0M918.1 438.1h0M920.6 438.1h0M923 438.1h0M925.5 438.1h0M928 441.2h0M930.5 444.2h0M932.9 444.2h0M935.4 444.2h0M937.9 444.2h0M940.4 444.2h0M942.8 444.2h0M945.3 444.2h0M947.8 444.2h0M950.3 444.2h0M952.7 444.2h0M955.2 444.2h0M957.7 444.2h0M960.2 441.2h0M962.6 441.2h0M965.1 441.2h0M967.6 441.2h0M970.1 441.2h0M972.6 444.2h0M975 447.3h0M977.5 447.3h0M980 447.3h0M982.5 447.3h0M984.9 447.3h0M987.4 447.3h0M989.9 447.3h0M992.4 450.3h0M994.8 450.3h0M997.3 450.3h0M999.8 450.3h0M1002.3 450.3h0M1004.7 450.3h0M1007.2 450.3h0M1009.7 450.3h0M1012.2 450.3h0M1014.6 450.3h0M1017.1 450.3h0M1019.6 450.3h0M1022.1 450.3h0M1024.5 450.3h0M1027 450.3h0M1029.5 450.3h0M1032 450.3h0M1034.5 450.3h0M1036.9 447.3h0M1039.4 450.3h0M1041.9 450.3h0M1044.4 447.3h0M1046.8 447.3h0M1049.3 447.3h0M1051.8 450.3h0M1054.3 450.3h0M1056.7 450.3h0M1059.2 453.4h0M1061.7 450.3h0M1064.2 447.3h0M1066.6 447.3h0M1069.1 447.3h0M1071.6 447.3h0M1074.1 447.3h0M1076.5 447.3h0M1079 444.2h0M1081.5 444.2h0M1084 444.2h0M1086.4 444.2h0M1088.9 444.2h0M1091.4 447.3h0M1093.9 447.3h0M1096.4 447.3h0M1098.8 447.3h0M1101.3 447.3h0M1103.8 447.3h0M1106.3 447.3h0M1108.7 450.3h0M1111.2 450.3h0M1113.7 450.3h0M1116.2 450.3h0M1118.6 450.3h0M1121.1 450.3h0M1123.6 456.4h0M1126.1 456.4h0M1128.5 456.4h0M1131 456.4h0M1133.5 459.5h0M1136 462.5h0M1138.4 468.6h0M1140.9 468.6h0M1143.4 468.6h0M1145.9 468.6h0M1148.3 468.6h0M1150.8 468.6h0M1153.3 462.5h0M1155.8 459.5h0M1158.3 459.5h0M1160.7 459.5h0M1163.2 462.5h0M1165.7 468.6h0M1168.2 468.6h0M1170.6 468.6h0M1173.1 468.6h0M1175.6 468.6h0M1178.1 468.6h0M1180.5 468.6h0M1183 465.6h0M1185.5 456.4h0M1188 456.4h0M1190.4 456.4h0M1192.9 456.4h0M1195.4 456.4h0M1197.9 456.4h0M1200.3 456.4h0M1202.8 456.4h0M1205.3 456.4h0M1207.8 456.4h0M1210.2 456.4h0M1212.7 456.4h0M1215.2 456.4h0M1217.7 456.4h0M1220.2 456.4h0M1222.6 456.4h0M1225.1 456.4h0M1227.6 456.4h0M1230.1 456.4h0M1232.5 456.4h0M1235 456.4h0M1237.5 456.4h0M1240 456.4h0M1242.4 450.3h0M1244.9 450.3h0M1247.4 450.3h0M1249.9 450.3h0M1252.3 450.3h0M1254.8 450.3h0M1257.3 453.4h0M1259.8 453.4h0M1262.2 453.4h0M1267.2 453.4h0M1272.1 453.4h0M1277.1 453.4h0M1279.6 453.4h0M1282.1 453.4h0M1284.5 453.4h0M1287 453.4h0M1289.5 453.4h0M1292 453.4h0M1294.4 453.4h0M1296.9 453.4h0M1299.4 453.4h0M1301.9 456.4h0M1304.3 456.4h0M1306.8 456.4h0M1309.3 456.4h0M1311.8 456.4h0M1314.2 453.4h0M1316.7 453.4h0M1319.2 453.4h0M1321.7 453.4h0M1324.1 453.4h0M1326.6 453.4h0M1329.1 453.4h0M1331.6 453.4h0M1334 453.4h0M1336.5 453.4h0M1339 453.4h0M1341.5 453.4h0M1344 453.4h0M1346.4 456.4h0M1348.9 456.4h0M1351.4 456.4h0M1353.9 456.4h0M1356.3 453.4h0M1358.8 453.4h0M1361.3 453.4h0M1363.8 453.4h0M1366.2 453.4h0M1368.7 453.4h0M1371.2 453.4h0M1373.7 459.5h0M1376.1 459.5h0M1378.6 459.5h0M1381.1 459.5h0M1383.6 459.5h0M1386 462.5h0M1388.5 459.5h0M1391 459.5h0M1393.5 453.4h0M1395.9 453.4h0M1398.4 456.4h0M1400.9 453.4h0M1403.4 453.4h0M1405.9 453.4h0M1408.3 453.4h0M1410.8 453.4h0M1413.3 453.4h0M1415.8 453.4h0M1418.2 453.4h0M1420.7 453.4h0M1423.2 453.4h0M1425.7 453.4h0M1428.1 453.4h0M1430.6 453.4h0M1433.1 453.4h0M1435.6 456.4h0M1438 456.4h0" fill="none" stroke="#ef6534" stroke-width="5.2" stroke-linecap="round"/>
<path d="M101 499.1L103.5 499.1L106 499.1L108.4 499.1L110.9 499.1L113.4 499.1L115.9 499.1L118.3 499.1L120.8 499.1L123.3 499.1L125.8 493L128.2 493L130.7 493L133.2 493L135.7 493L138.1 493L140.6 493L143.1 493L145.6 496L148 496L150.5 496L153 493L155.5 493L157.9 493L160.4 493L162.9 489.9L165.4 489.9L167.9 489.9L170.3 489.9L172.8 489.9L175.3 489.9L177.8 489.9L180.2 489.9L182.7 489.9L185.2 489.9L187.7 489.9L190.1 489.9L192.6 489.9L195.1 489.9L197.6 489.9L200 489.9L202.5 489.9L205 489.9L207.5 489.9L209.9 493L212.4 489.9L214.9 489.9L217.4 489.9L219.8 489.9L222.3 489.9L224.8 489.9L227.3 489.9L229.8 489.9L232.2 489.9L234.7 489.9L237.2 489.9L239.7 489.9L242.1 489.9L244.6 489.9L247.1 489.9L249.6 489.9L252 489.9L254.5 489.9L257 489.9L259.5 486.9L261.9 486.9L264.4 489.9L266.9 489.9L269.4 489.9L271.8 489.9L274.3 489.9L276.8 489.9L279.3 489.9L281.7 489.9L284.2 489.9L286.7 489.9L289.2 496L291.7 499.1L294.1 499.1L296.6 499.1L299.1 505.2L301.6 505.2L304 505.2L306.5 505.2L309 505.2L311.5 505.2L313.9 505.2L316.4 505.2L318.9 505.2L321.4 505.2L323.8 505.2L326.3 505.2L328.8 505.2L331.3 496L333.7 496L336.2 496L338.7 496L341.2 496L343.6 496L346.1 489.9L348.6 489.9L351.1 489.9L353.6 489.9L356 489.9L358.5 489.9L361 489.9L363.5 489.9L365.9 489.9L368.4 489.9L370.9 489.9L373.4 489.9L375.8 489.9L378.3 489.9L380.8 489.9L383.3 489.9L385.7 489.9L388.2 489.9L390.7 489.9L393.2 489.9L395.6 489.9L398.1 489.9L400.6 489.9L403.1 489.9L405.5 489.9L408 489.9L410.5 489.9L413 489.9L415.5 489.9L417.9 489.9L420.4 489.9L422.9 489.9L425.4 489.9L427.8 489.9L430.3 489.9L432.8 489.9L435.3 489.9L437.7 489.9L440.2 489.9L442.7 489.9L445.2 489.9L447.6 489.9L450.1 489.9L452.6 489.9L455.1 489.9L457.5 489.9L460 489.9L462.5 489.9L465 489.9L467.4 489.9L469.9 489.9L472.4 489.9L474.9 489.9L477.4 489.9L479.8 489.9L482.3 489.9L484.8 489.9L487.3 489.9L489.7 489.9L492.2 489.9L494.7 489.9L497.2 489.9L499.6 489.9L502.1 489.9L504.6 489.9L507.1 489.9L509.5 489.9L512 493L514.5 489.9L517 489.9L519.4 489.9L521.9 489.9L524.4 489.9L526.9 489.9L529.3 489.9L531.8 489.9L534.3 489.9L536.8 489.9L539.3 489.9L541.7 489.9L544.2 489.9L546.7 489.9L549.2 489.9L551.6 489.9L554.1 489.9L556.6 489.9L559.1 489.9L561.5 489.9L564 489.9L566.5 489.9L569 489.9L571.4 489.9L573.9 489.9L576.4 489.9L578.9 489.9L581.3 489.9L583.8 489.9L586.3 489.9L588.8 489.9L591.2 489.9L593.7 489.9L596.2 489.9L598.7 489.9L601.2 489.9L603.6 489.9L606.1 489.9L608.6 489.9L611.1 489.9L613.5 489.9L616 489.9L618.5 489.9L621 489.9L623.4 489.9L625.9 489.9L628.4 489.9L630.9 489.9L633.3 489.9L635.8 489.9L638.3 489.9L640.8 489.9L643.2 489.9L645.7 489.9L648.2 489.9L650.7 489.9L653.1 489.9L655.6 489.9L658.1 489.9L660.6 489.9L663.1 489.9L665.5 489.9L668 489.9L670.5 489.9L673 489.9L675.4 489.9L677.9 489.9L680.4 489.9L682.9 489.9L685.3 489.9L687.8 489.9L690.3 489.9L692.8 489.9L695.2 489.9L697.7 489.9L700.2 489.9L702.7 489.9L705.1 489.9L707.6 489.9L710.1 489.9L712.6 489.9L715 489.9L717.5 489.9L720 489.9L722.5 493L725 493L727.4 493L729.9 493L732.4 493L734.9 493L737.3 493L739.8 493L742.3 493L744.8 493L747.2 493L749.7 496L752.2 493L754.7 493L757.1 493L759.6 489.9L762.1 489.9L764.6 489.9L767 489.9L769.5 489.9L772 489.9L774.5 489.9L776.9 489.9L779.4 489.9L781.9 489.9L784.4 489.9L786.9 489.9L789.3 489.9L791.8 489.9L794.3 489.9L796.8 489.9L799.2 489.9L801.7 489.9L804.2 489.9L806.7 489.9L809.1 489.9L811.6 489.9L814.1 489.9L816.6 489.9L819 489.9L821.5 489.9L824 489.9L826.5 489.9L828.9 489.9L831.4 489.9L833.9 489.9L836.4 489.9L838.8 489.9L841.3 489.9L843.8 489.9L846.3 489.9L848.8 489.9L851.2 489.9L853.7 489.9L856.2 489.9L858.7 489.9L861.1 489.9L863.6 489.9L866.1 489.9L868.6 489.9L871 489.9L873.5 489.9L876 489.9L878.5 489.9L880.9 489.9L883.4 489.9L885.9 489.9L888.4 489.9L890.8 489.9L893.3 489.9L895.8 489.9L898.3 489.9L900.7 489.9L903.2 489.9L905.7 489.9L908.2 489.9L910.7 489.9L913.1 489.9L915.6 489.9L918.1 489.9L920.6 489.9L923 489.9L925.5 493L928 493L930.5 493L932.9 493L935.4 493L937.9 493L940.4 493L942.8 493L945.3 493L947.8 493L950.3 493L952.7 493L955.2 493L957.7 493L960.2 493L962.6 493L965.1 493L967.6 493L970.1 493L972.6 496L975 496L977.5 496L980 496L982.5 496L984.9 496L987.4 496L989.9 496L992.4 496L994.8 496L997.3 496L999.8 496L1002.3 496L1004.7 496L1007.2 496L1009.7 496L1012.2 496L1014.6 496L1017.1 496L1019.6 496L1022.1 496L1024.5 496L1027 496L1029.5 496L1032 496L1034.5 496L1036.9 493L1039.4 496L1041.9 496L1044.4 493L1046.8 493L1049.3 493L1051.8 493L1054.3 493L1056.7 493L1059.2 496L1061.7 493L1064.2 493L1066.6 493L1069.1 493L1071.6 493L1074.1 493L1076.5 493L1079 489.9L1081.5 489.9L1084 489.9L1086.4 489.9L1088.9 489.9L1091.4 489.9L1093.9 489.9L1096.4 489.9L1098.8 489.9L1101.3 489.9L1103.8 489.9L1106.3 489.9L1108.7 489.9L1111.2 489.9L1113.7 489.9L1116.2 489.9L1118.6 489.9L1121.1 489.9L1123.6 496L1126.1 496L1128.5 496L1131 496L1133.5 499.1L1136 502.1L1138.4 508.2L1140.9 508.2L1143.4 508.2L1145.9 508.2L1148.3 508.2L1150.8 508.2L1153.3 502.1L1155.8 499.1L1158.3 499.1L1160.7 499.1L1163.2 502.1L1165.7 508.2L1168.2 508.2L1170.6 508.2L1173.1 508.2L1175.6 508.2L1178.1 508.2L1180.5 508.2L1183 502.1L1185.5 496L1188 496L1190.4 496L1192.9 496L1195.4 496L1197.9 496L1200.3 496L1202.8 496L1205.3 496L1207.8 496L1210.2 496L1212.7 496L1215.2 496L1217.7 496L1220.2 496L1222.6 496L1225.1 496L1227.6 496L1230.1 496L1232.5 496L1235 496L1237.5 496L1240 496L1242.4 493L1244.9 493L1247.4 493L1249.9 493L1252.3 493L1254.8 493L1257.3 493L1259.8 493L1262.2 493L1264.7 493L1267.2 493L1269.7 493L1272.1 493L1274.6 493L1277.1 493L1279.6 493L1282.1 493L1284.5 493L1287 493L1289.5 493L1292 493L1294.4 493L1296.9 493L1299.4 493L1301.9 493L1304.3 493L1306.8 493L1309.3 493L1311.8 493L1314.2 493L1316.7 493L1319.2 493L1321.7 493L1324.1 493L1326.6 493L1329.1 493L1331.6 493L1334 493L1336.5 493L1339 493L1341.5 493L1344 493L1346.4 496L1348.9 496L1351.4 496L1353.9 496L1356.3 496L1358.8 496L1361.3 496L1363.8 496L1366.2 496L1368.7 496L1371.2 496L1373.7 502.1L1376.1 502.1L1378.6 502.1L1381.1 502.1L1383.6 502.1L1386 503.9L1388.5 502.1L1391 502.1L1393.5 496L1395.9 496L1398.4 496L1400.9 493L1403.4 493L1405.9 493L1408.3 493L1410.8 493L1413.3 493L1415.8 493L1418.2 493L1420.7 493L1423.2 493L1425.7 493L1428.1 493L1430.6 493L1433.1 493L1435.6 496L1438 496" fill="none" stroke="#6ecb3f" stroke-width="2.2" stroke-linejoin="round"/>
<path d="M101 499.1h0M103.5 499.1h0M106 499.1h0M108.4 499.1h0M110.9 499.1h0M113.4 499.1h0M115.9 499.1h0M118.3 499.1h0M120.8 499.1h0M125.8 493h0M130.7 493h0M135.7 493h0M143.1 493h0M148 496h0M150.5 496h0M153 493h0M155.5 493h0M157.9 493h0M160.4 493h0M162.9 489.9h0M165.4 489.9h0M167.9 489.9h0M170.3 489.9h0M172.8 489.9h0M175.3 489.9h0M177.8 489.9h0M182.7 489.9h0M185.2 489.9h0M187.7 489.9h0M190.1 489.9h0M195.1 489.9h0M197.6 489.9h0M200 489.9h0M202.5 489.9h0M205 489.9h0M207.5 489.9h0M209.9 493h0M212.4 489.9h0M214.9 489.9h0M217.4 489.9h0M219.8 489.9h0M222.3 489.9h0M224.8 489.9h0M227.3 489.9h0M229.8 489.9h0M232.2 489.9h0M234.7 489.9h0M237.2 489.9h0M239.7 489.9h0M242.1 489.9h0M244.6 489.9h0M247.1 489.9h0M249.6 489.9h0M252 489.9h0M254.5 489.9h0M257 489.9h0M259.5 486.9h0M261.9 486.9h0M264.4 489.9h0M266.9 489.9h0M269.4 489.9h0M271.8 489.9h0M274.3 489.9h0M276.8 489.9h0M279.3 489.9h0M281.7 489.9h0M284.2 489.9h0M286.7 489.9h0M289.2 496h0M291.7 499.1h0M294.1 499.1h0M296.6 499.1h0M299.1 505.2h0M301.6 505.2h0M304 505.2h0M306.5 505.2h0M309 505.2h0M311.5 505.2h0M316.4 505.2h0M321.4 505.2h0M323.8 505.2h0M326.3 505.2h0M328.8 505.2h0M331.3 496h0M333.7 496h0M336.2 496h0M341.2 496h0M343.6 496h0M346.1 489.9h0M348.6 489.9h0M351.1 489.9h0M353.6 489.9h0M356 489.9h0M358.5 489.9h0M361 489.9h0M363.5 489.9h0M365.9 489.9h0M368.4 489.9h0M373.4 489.9h0M378.3 489.9h0M383.3 489.9h0M385.7 489.9h0M388.2 489.9h0M390.7 489.9h0M393.2 489.9h0M395.6 489.9h0M398.1 489.9h0M400.6 489.9h0M403.1 489.9h0M405.5 489.9h0M408 489.9h0M410.5 489.9h0M413 489.9h0M417.9 489.9h0M420.4 489.9h0M425.4 489.9h0M430.3 489.9h0M432.8 489.9h0M437.7 489.9h0M440.2 489.9h0M445.2 489.9h0M447.6 489.9h0M450.1 489.9h0M452.6 489.9h0M455.1 489.9h0M457.5 489.9h0M460 489.9h0M462.5 489.9h0M465 489.9h0M467.4 489.9h0M469.9 489.9h0M472.4 489.9h0M474.9 489.9h0M479.8 489.9h0M482.3 489.9h0M484.8 489.9h0M487.3 489.9h0M489.7 489.9h0M492.2 489.9h0M494.7 489.9h0M497.2 489.9h0M499.6 489.9h0M502.1 489.9h0M504.6 489.9h0M507.1 489.9h0M509.5 489.9h0M512 493h0M514.5 489.9h0M517 489.9h0M519.4 489.9h0M521.9 489.9h0M524.4 489.9h0M526.9 489.9h0M529.3 489.9h0M531.8 489.9h0M534.3 489.9h0M536.8 489.9h0M539.3 489.9h0M541.7 489.9h0M544.2 489.9h0M546.7 489.9h0M549.2 489.9h0M551.6 489.9h0M554.1 489.9h0M556.6 489.9h0M559.1 489.9h0M561.5 489.9h0M564 489.9h0M566.5 489.9h0M569 489.9h0M571.4 489.9h0M573.9 489.9h0M576.4 489.9h0M578.9 489.9h0M581.3 489.9h0M583.8 489.9h0M586.3 489.9h0M588.8 489.9h0M591.2 489.9h0M598.7 489.9h0M601.2 489.9h0M603.6 489.9h0M606.1 489.9h0M608.6 489.9h0M611.1 489.9h0M613.5 489.9h0M616 489.9h0M618.5 489.9h0M621 489.9h0M623.4 489.9h0M625.9 489.9h0M628.4 489.9h0M630.9 489.9h0M633.3 489.9h0M635.8 489.9h0M638.3 489.9h0M640.8 489.9h0M643.2 489.9h0M645.7 489.9h0M648.2 489.9h0M650.7 489.9h0M653.1 489.9h0M655.6 489.9h0M658.1 489.9h0M660.6 489.9h0M663.1 489.9h0M665.5 489.9h0M668 489.9h0M670.5 489.9h0M673 489.9h0M675.4 489.9h0M677.9 489.9h0M680.4 489.9h0M682.9 489.9h0M685.3 489.9h0M687.8 489.9h0M690.3 489.9h0M692.8 489.9h0M695.2 489.9h0M697.7 489.9h0M700.2 489.9h0M702.7 489.9h0M705.1 489.9h0M707.6 489.9h0M710.1 489.9h0M712.6 489.9h0M715 489.9h0M717.5 489.9h0M720 489.9h0M722.5 493h0M725 493h0M727.4 493h0M732.4 493h0M737.3 493h0M739.8 493h0M742.3 493h0M744.8 493h0M747.2 493h0M749.7 496h0M752.2 493h0M754.7 493h0M757.1 493h0M759.6 489.9h0M762.1 489.9h0M764.6 489.9h0M767 489.9h0M769.5 489.9h0M772 489.9h0M774.5 489.9h0M776.9 489.9h0M779.4 489.9h0M781.9 489.9h0M784.4 489.9h0M786.9 489.9h0M789.3 489.9h0M791.8 489.9h0M794.3 489.9h0M796.8 489.9h0M799.2 489.9h0M801.7 489.9h0M804.2 489.9h0M806.7 489.9h0M809.1 489.9h0M811.6 489.9h0M814.1 489.9h0M816.6 489.9h0M819 489.9h0M821.5 489.9h0M824 489.9h0M826.5 489.9h0M828.9 489.9h0M831.4 489.9h0M833.9 489.9h0M836.4 489.9h0M838.8 489.9h0M841.3 489.9h0M843.8 489.9h0M846.3 489.9h0M848.8 489.9h0M851.2 489.9h0M853.7 489.9h0M856.2 489.9h0M858.7 489.9h0M861.1 489.9h0M866.1 489.9h0M871 489.9h0M876 489.9h0M878.5 489.9h0M880.9 489.9h0M883.4 489.9h0M885.9 489.9h0M888.4 489.9h0M890.8 489.9h0M893.3 489.9h0M895.8 489.9h0M898.3 489.9h0M900.7 489.9h0M903.2 489.9h0M905.7 489.9h0M908.2 489.9h0M910.7 489.9h0M913.1 489.9h0M915.6 489.9h0M918.1 489.9h0M920.6 489.9h0M923 489.9h0M925.5 493h0M928 493h0M930.5 493h0M932.9 493h0M935.4 493h0M937.9 493h0M940.4 493h0M942.8 493h0M945.3 493h0M947.8 493h0M950.3 493h0M952.7 493h0M955.2 493h0M957.7 493h0M960.2 493h0M962.6 493h0M965.1 493h0M967.6 493h0M970.1 493h0M972.6 496h0M975 496h0M977.5 496h0M980 496h0M982.5 496h0M984.9 496h0M987.4 496h0M989.9 496h0M992.4 496h0M994.8 496h0M997.3 496h0M999.8 496h0M1002.3 496h0M1004.7 496h0M1007.2 496h0M1009.7 496h0M1012.2 496h0M1014.6 496h0M1017.1 496h0M1019.6 496h0M1022.1 496h0M1024.5 496h0M1027 496h0M1029.5 496h0M1032 496h0M1034.5 496h0M1036.9 493h0M1039.4 496h0M1041.9 496h0M1044.4 493h0M1046.8 493h0M1049.3 493h0M1051.8 493h0M1054.3 493h0M1056.7 493h0M1059.2 496h0M1061.7 493h0M1064.2 493h0M1066.6 493h0M1069.1 493h0M1071.6 493h0M1074.1 493h0M1076.5 493h0M1079 489.9h0M1081.5 489.9h0M1084 489.9h0M1086.4 489.9h0M1088.9 489.9h0M1091.4 489.9h0M1093.9 489.9h0M1096.4 489.9h0M1098.8 489.9h0M1101.3 489.9h0M1103.8 489.9h0M1106.3 489.9h0M1108.7 489.9h0M1111.2 489.9h0M1113.7 489.9h0M1116.2 489.9h0M1118.6 489.9h0M1121.1 489.9h0M1123.6 496h0M1126.1 496h0M1128.5 496h0M1131 496h0M1133.5 499.1h0M1136 502.1h0M1138.4 508.2h0M1140.9 508.2h0M1143.4 508.2h0M1145.9 508.2h0M1148.3 508.2h0M1150.8 508.2h0M1153.3 502.1h0M1155.8 499.1h0M1158.3 499.1h0M1160.7 499.1h0M1163.2 502.1h0M1165.7 508.2h0M1168.2 508.2h0M1170.6 508.2h0M1173.1 508.2h0M1175.6 508.2h0M1178.1 508.2h0M1180.5 508.2h0M1183 502.1h0M1185.5 496h0M1188 496h0M1190.4 496h0M1192.9 496h0M1195.4 496h0M1197.9 496h0M1200.3 496h0M1202.8 496h0M1205.3 496h0M1207.8 496h0M1210.2 496h0M1212.7 496h0M1215.2 496h0M1217.7 496h0M1220.2 496h0M1222.6 496h0M1225.1 496h0M1227.6 496h0M1230.1 496h0M1232.5 496h0M1235 496h0M1237.5 496h0M1240 496h0M1242.4 493h0M1244.9 493h0M1247.4 493h0M1249.9 493h0M1252.3 493h0M1254.8 493h0M1257.3 493h0M1259.8 493h0M1262.2 493h0M1267.2 493h0M1272.1 493h0M1277.1 493h0M1279.6 493h0M1282.1 493h0M1284.5 493h0M1287 493h0M1289.5 493h0M1292 493h0M1294.4 493h0M1296.9 493h0M1299.4 493h0M1301.9 493h0M1304.3 493h0M1306.8 493h0M1309.3 493h0M1311.8 493h0M1314.2 493h0M1316.7 493h0M1319.2 493h0M1321.7 493h0M1324.1 493h0M1326.6 493h0M1329.1 493h0M1331.6 493h0M1334 493h0M1336.5 493h0M1339 493h0M1341.5 493h0M1344 493h0M1346.4 496h0M1348.9 496h0M1351.4 496h0M1353.9 496h0M1356.3 496h0M1358.8 496h0M1361.3 496h0M1363.8 496h0M1366.2 496h0M1368.7 496h0M1371.2 496h0M1373.7 502.1h0M1376.1 502.1h0M1378.6 502.1h0M1381.1 502.1h0M1383.6 502.1h0M1386 503.9h0M1388.5 502.1h0M1391 502.1h0M1393.5 496h0M1395.9 496h0M1398.4 496h0M1400.9 493h0M1403.4 493h0M1405.9 493h0M1408.3 493h0M1410.8 493h0M1413.3 493h0M1415.8 493h0M1418.2 493h0M1420.7 493h0M1423.2 493h0M1425.7 493h0M1428.1 493h0M1430.6 493h0M1433.1 493h0M1435.6 496h0M1438 496h0" fill="none" stroke="#6ecb3f" stroke-width="5.2" stroke-linecap="round"/>
<rect x="87.5" y="622.3" width="1365.0" height="29.7" fill="#f5f6f8"/>
<rect x="87.5" y="682.3" width="1365.0" height="30" fill="#f5f6f8"/>
<line x1="87.5" x2="1452.5" y1="590.5" y2="590.5" stroke="#e4e4e4" stroke-width="1.4"/>
<line x1="87.5" x2="1452.5" y1="622.3" y2="622.3" stroke="#e4e4e4" stroke-width="1.4"/>
<line x1="87.5" x2="1452.5" y1="652" y2="652" stroke="#e4e4e4" stroke-width="1.4"/>
<line x1="87.5" x2="1452.5" y1="682.3" y2="682.3" stroke="#e4e4e4" stroke-width="1.4"/>
<line x1="87.5" x2="1452.5" y1="712.3" y2="712.3" stroke="#e4e4e4" stroke-width="1.4"/>
<line x1="175.4" x2="175.4" y1="590.5" y2="712.3" stroke="#e4e4e4" stroke-width="1.4"/>
<line x1="279.5" x2="279.5" y1="590.5" y2="712.3" stroke="#e4e4e4" stroke-width="1.4"/>
<line x1="383.7" x2="383.7" y1="590.5" y2="712.3" stroke="#e4e4e4" stroke-width="1.4"/>
<line x1="487.8" x2="487.8" y1="590.5" y2="712.3" stroke="#e4e4e4" stroke-width="1.4"/>
<line x1="591.9" x2="591.9" y1="590.5" y2="712.3" stroke="#e4e4e4" stroke-width="1.4"/>
<line x1="696" x2="696" y1="590.5" y2="712.3" stroke="#e4e4e4" stroke-width="1.4"/>
<line x1="800.2" x2="800.2" y1="590.5" y2="712.3" stroke="#e4e4e4" stroke-width="1.4"/>
<line x1="904.3" x2="904.3" y1="590.5" y2="712.3" stroke="#e4e4e4" stroke-width="1.4"/>
<line x1="1008.4" x2="1008.4" y1="590.5" y2="712.3" stroke="#e4e4e4" stroke-width="1.4"/>
<line x1="1112.6" x2="1112.6" y1="590.5" y2="712.3" stroke="#e4e4e4" stroke-width="1.4"/>
<line x1="1216.7" x2="1216.7" y1="590.5" y2="712.3" stroke="#e4e4e4" stroke-width="1.4"/>
<line x1="1320.8" x2="1320.8" y1="590.5" y2="712.3" stroke="#e4e4e4" stroke-width="1.4"/>
<line x1="1425" x2="1425" y1="590.5" y2="712.3" stroke="#e4e4e4" stroke-width="1.4"/>
<path d="M87.5 589.8V712.3H1452.5V589.8" fill="none" stroke="#1a1a1a" stroke-width="1.3"/>
<line x1="87.5" x2="99.0" y1="590.5" y2="590.5" stroke="#1a1a1a" stroke-width="1.3"/>
<line x1="1441.0" x2="1452.5" y1="590.5" y2="590.5" stroke="#1a1a1a" stroke-width="1.3"/>
<text x="83.3" y="594.5" text-anchor="end">20000</text>
<text x="1456.8" y="594.5">20000</text>
<line x1="87.5" x2="99.0" y1="622.3" y2="622.3" stroke="#1a1a1a" stroke-width="1.3"/>
<line x1="1441.0" x2="1452.5" y1="622.3" y2="622.3" stroke="#1a1a1a" stroke-width="1.3"/>
<text x="83.3" y="624.8" text-anchor="end">15000</text>
<text x="1456.8" y="624.8">15000</text>
<line x1="87.5" x2="99.0" y1="652" y2="652" stroke="#1a1a1a" stroke-width="1.3"/>
<line x1="1441.0" x2="1452.5" y1="652" y2="652" stroke="#1a1a1a" stroke-width="1.3"/>
<text x="83.3" y="655.5" text-anchor="end">10000</text>
<text x="1456.8" y="655.5">10000</text>
<line x1="87.5" x2="99.0" y1="682.3" y2="682.3" stroke="#1a1a1a" stroke-width="1.3"/>
<line x1="1441.0" x2="1452.5" y1="682.3" y2="682.3" stroke="#1a1a1a" stroke-width="1.3"/>
<text x="83.3" y="685.5" text-anchor="end">5000</text>
<text x="1456.8" y="685.5">5000</text>
<text x="83.3" y="715" text-anchor="end">0</text>
<text x="1456.8" y="715">0</text>
<line x1="175.4" x2="175.4" y1="701.1" y2="712.3" stroke="#1a1a1a" stroke-width="1.3"/>
<text x="175.8" y="732.7" text-anchor="middle">04<tspan dx=".7">/</tspan><tspan dx=".7">30</tspan></text>
<line x1="279.5" x2="279.5" y1="701.1" y2="712.3" stroke="#1a1a1a" stroke-width="1.3"/>
<text x="279.9" y="732.7" text-anchor="middle">05<tspan dx=".7">/</tspan><tspan dx=".7">07</tspan></text>
<line x1="383.7" x2="383.7" y1="701.1" y2="712.3" stroke="#1a1a1a" stroke-width="1.3"/>
<text x="384.1" y="732.7" text-anchor="middle">05<tspan dx=".7">/</tspan><tspan dx=".7">14</tspan></text>
<line x1="487.8" x2="487.8" y1="701.1" y2="712.3" stroke="#1a1a1a" stroke-width="1.3"/>
<text x="488.2" y="732.7" text-anchor="middle">05<tspan dx=".7">/</tspan><tspan dx=".7">21</tspan></text>
<line x1="591.9" x2="591.9" y1="701.1" y2="712.3" stroke="#1a1a1a" stroke-width="1.3"/>
<text x="592.3" y="732.7" text-anchor="middle">05<tspan dx=".7">/</tspan><tspan dx=".7">28</tspan></text>
<line x1="696" x2="696" y1="701.1" y2="712.3" stroke="#1a1a1a" stroke-width="1.3"/>
<text x="696.4" y="732.7" text-anchor="middle">06<tspan dx=".7">/</tspan><tspan dx=".7">04</tspan></text>
<line x1="800.2" x2="800.2" y1="701.1" y2="712.3" stroke="#1a1a1a" stroke-width="1.3"/>
<text x="800.6" y="732.7" text-anchor="middle">06<tspan dx=".7">/</tspan><tspan dx=".7">11</tspan></text>
<line x1="904.3" x2="904.3" y1="701.1" y2="712.3" stroke="#1a1a1a" stroke-width="1.3"/>
<text x="904.7" y="732.7" text-anchor="middle">06<tspan dx=".7">/</tspan><tspan dx=".7">18</tspan></text>
<line x1="1008.4" x2="1008.4" y1="701.1" y2="712.3" stroke="#1a1a1a" stroke-width="1.3"/>
<text x="1008.8" y="732.7" text-anchor="middle">06<tspan dx=".7">/</tspan><tspan dx=".7">25</tspan></text>
<line x1="1112.6" x2="1112.6" y1="701.1" y2="712.3" stroke="#1a1a1a" stroke-width="1.3"/>
<text x="1113" y="732.7" text-anchor="middle">07<tspan dx=".7">/</tspan><tspan dx=".7">02</tspan></text>
<line x1="1216.7" x2="1216.7" y1="701.1" y2="712.3" stroke="#1a1a1a" stroke-width="1.3"/>
<text x="1217.1" y="732.7" text-anchor="middle">07<tspan dx=".7">/</tspan><tspan dx=".7">09</tspan></text>
<line x1="1320.8" x2="1320.8" y1="701.1" y2="712.3" stroke="#1a1a1a" stroke-width="1.3"/>
<text x="1321.2" y="732.7" text-anchor="middle">07<tspan dx=".7">/</tspan><tspan dx=".7">16</tspan></text>
<line x1="1425" x2="1425" y1="701.1" y2="712.3" stroke="#1a1a1a" stroke-width="1.3"/>
<text x="1425.4" y="732.7" text-anchor="middle">07<tspan dx=".7">/</tspan><tspan dx=".7">23</tspan></text>
<line x1="101.5" x2="1438" y1="678.0" y2="678.0" stroke="#a5cfdc" stroke-width="2.2"/>
<circle cx="101.5" cy="678.0" r="2.5" fill="#a5cfdc"/><circle cx="1438" cy="678.0" r="2.5" fill="#a5cfdc"/>
<path d="M101.4 635.3L103.6 624.1L107.1 628.5L111.5 632L113.6 625.2L116.7 613.2L121.3 608.6L126.8 614.3L132.2 609.9L136.8 608.6L142.3 611.2L147.7 676.8L149.7 666.1L151.7 693.8L153.4 692.5L155.6 684.9L157.4 668.1L161.1 667.2L163 641.8L166.7 645.3L170.9 643.2L174.2 634.2L178.5 616.9L184.2 623.2L186.6 624.3L189.5 613.2L196 692.5L198.5 688.6L200.8 681.4L201.3 671.3L205.9 654.1L208.1 639.6L211.5 648.8L215 646.4L217 639.6L220.5 628.7L222.3 618.7L226.9 624.3L230.6 622.1L233.6 616.7L237.6 699.1L240.2 698L243.2 693.8L244.4 687.9L245.7 682.3L248.7 670.5L251.1 651.5L254.2 650.4L256.8 654.1L259.7 649.9L262.1 639.6L264.4 693.6L267.9 686.9L269.5 680.9L272.5 679.4L274.3 668.5L277.3 648.6L279.7 636.4L282.8 686.8L285.4 684.5L286.7 681.8L289.4 672.7L292.7 658.4L293.8 647.7L297 635.1L299.7 637.5L301.8 644L304.7 640.3L307.3 636.4L309.3 686.8L314.9 670.5L320.4 694.7L322.1 693.8L323.5 681.2L327.2 693.8L329.6 693.4L331.5 689.1L333.8 684.9L336.8 669.4L342.3 643.4L344.5 651.4L346.9 654.3L349 645.3L352.3 639.7L354.5 633.3L356.5 622.1L358.9 625.6L361.1 629.8L364.3 626.5L367 625L368.6 618.7L374.2 616.3L379 619.7L383.9 703.3L386.7 703L390.9 699.8L393.7 693.8L396.3 690.1L398.7 700.2L399.8 696.5L401.1 692.5L404.4 691L406.6 689.1L408.5 682.3L409.4 676.6L411.4 656L413.6 649.5L419.1 637.7L421.5 644.9L425.8 635.1L429.3 628.5L431.5 616.7L436.8 694.7L438.3 689.5L439.4 678.1L441.3 670.3L446.8 640.3L449.4 645.8L452.1 649.5L454.5 694.9L458.2 685.1L459.7 670.3L461.9 665L465 667.4L466.3 659.7L468.7 650.4L472.1 639.7L473.2 630.7L476.5 618.7L481.8 678.1L484 666.1L486.6 657.3L488.5 695.8L492.9 685.1L495.1 680.9L497.5 675L499.5 659.5L502.5 650.4L505.2 637.7L508 642.7L510.9 646.4L514.6 643.2L517.4 634.2L519.1 690.4L522.7 700.2L526.1 696L528.3 684.9L530.5 675.9L532.5 665L534.7 652.8L537.5 655L540.4 659.5L542.3 649.5L544.5 644.2L548 636.6L551.3 624.1L554.1 629.8L557.8 685.5L559.2 676.6L562 696.5L566.1 699.3L567.9 703.5L570.7 697.8L573.8 691.4L576.8 685.8L579 676.6L581.2 673.5L583.8 677.2L586.5 668.5L588.5 653L591.1 645.1L599.6 681.2L602.2 669.4L604 698L606.8 693.8L609.6 684.9L611.8 699.3L613.4 698.9L616.4 695L618.6 686.8L620.6 679.9L623.2 671.3L625.2 656.2L628.7 666.1L630.9 663.2L632.8 656.3L636.1 644L639 700.2L641.6 697.1L643.8 694.7L645.8 689.1L649 675.7L651.4 668.3L654.5 689.1L656.7 688.6L658.2 683.6L660 680.9L661.3 674.6L664.3 697.8L665.9 694.7L669.2 680.9L673.3 680.1L676.6 690.1L679 700.2L682.5 695.6L683.4 689.1L686.8 686L689 683.6L689.9 676.6L692.3 668.3L695 655L697.3 644L699.8 643.1L701.7 651.4L704.3 654.1L707.4 647.7L709.6 640.7L711.8 626.5L715.3 625L717.2 629.2L721.8 634.4L725.5 630.7L727.3 614.1L732.5 616.7L738.5 616.7L742.6 683.6L744.8 679L747.2 672.9L749.4 663.9L751.8 661.1L753.5 646.2L757.2 629.6L759.2 700.2L761.8 698.9L763.6 695.2L766 701.1L769.3 693.8L771.2 691.9L771.5 700.4L774.3 697.8L777.1 695.6L778.4 693.8L780.2 688.2L782.2 681.2L784.6 675L786.7 657.3L789.1 656L792.4 662.4L794.6 656L796.4 692.5L801 678.1L803.4 700.2L806.6 698.9L807.9 703.5L810.3 701.5L812.1 697.1L814.3 691.9L816.2 685.1L818.5 681.4L821.9 682.3L823.7 675.9L827.2 664.8L829.6 658.4L832 645.1L834 645.1L836.2 651.4L838.5 655.4L841.6 648.6L844 643.2L846.2 627.8L849.3 625L851.7 628.9L856.3 633.3L859.3 625.2L861.5 612.3L867 615.4L872 614.1L876.8 695.6L879.4 691L882.1 691L883.4 678.1L884.5 703.5L886.4 703L888.6 700.2L890.4 695.6L890.6 691L893.2 687.3L896 685.5L898 683.6L899.1 698.9L900.9 690.4L903.3 690.1L905 701.1L909.7 698.4L912.5 704.4L915.3 700.8L918 695.6L919.9 693.8L920.8 689.1L923.6 686.8L927.3 684.2L929.1 679.9L931.9 669.4L933.7 661.5L937.4 650.4L939.8 695.6L942.6 693.8L943.3 690.1L944.4 681.8L946.2 676.6L948.5 671.3L950.3 656.9L954 659.1L956.4 663.9L958.6 663.2L960.4 657.3L963.8 649.5L966 636.2L968.7 636.2L971.9 638.8L972.8 693.8L976.1 687.3L978.3 672.2L981.3 694.7L983.5 690.1L986.2 686L987.2 679.6L989.9 667.9L992.7 660.4L994.5 700.2L997.3 696.5L999.1 703.5L1001.9 700.2L1003.8 697.4L1005.6 692.5L1006.9 690.1L1009.3 675.7L1011.1 673.8L1014.8 675.9L1015.7 700.2L1018.1 698.9L1020.3 694.7L1021.3 690.1L1023.5 679L1026.4 702.2L1030.5 701.1L1032.3 693.8L1035.1 691.5L1036.6 689.1L1038.4 671.3L1040.6 666.7L1043.9 670.3L1046.5 668.9L1048.4 661.5L1050.8 655L1053.9 705.4L1057.2 704.4L1060 703L1062.4 700.8L1063.7 696.5L1065.5 693.8L1067.4 690.1L1069.2 684.5L1071 681.8L1074.7 680.9L1075.1 682.7L1077.1 675.9L1080.3 663.9L1082.5 659.5L1084.9 694.3L1086.2 691.9L1087.1 701.1L1090.4 700.2L1092.6 703.5L1094.1 705.7L1095.9 703L1099.2 695.2L1101.5 698.9L1103.7 700.8L1106.1 695.6L1108.8 691L1110.7 685.5L1112.5 680.1L1114.4 692.5L1117.1 691L1119.9 690.1L1122.3 685.5L1123.9 679L1125.4 674L1127.6 695.6L1130 691L1132.8 689.1L1134.6 687.3L1135.6 679.9L1137.8 697.8L1140.2 693.8L1142.9 690.1L1144.8 681.8L1146.6 678.1L1149 676.6L1150.9 696.5L1153.1 695L1154.9 691L1156.4 680.1L1158.2 667L1160.4 663.9L1164.1 669.4L1166.3 663.9L1168.4 654.1L1171.5 643.2L1173.7 628.7L1177.5 630.3L1180.1 638.8L1181.6 693.8L1182.9 690.4L1184.9 679L1188.2 694.9L1189.9 690.1L1192.6 689.1L1195 684.9L1196 676.6L1198.2 664.8L1201.3 649.9L1202.6 639.6L1205.6 689.1L1208.3 688.2L1209.8 685.5L1210.7 676.6L1212.6 668.3L1214.4 657.3L1217.9 640.5L1220.3 689.1L1222.7 689.1L1224 686.4L1225.8 680.1L1226.8 672.6L1229.9 664.8L1232.3 647.3L1234.5 642.1L1237.8 649.5L1239.8 654.1L1242.1 648.6L1244.3 643.2L1246.5 694.7L1247.6 700.4L1250.2 697.8L1252.6 695.6L1254.8 693.8L1255.7 688.2L1257.7 680.1L1259.6 673.8L1264.2 653.2L1267.3 659.5L1270.1 658.7L1273.8 646.4L1276.3 638.6L1280.8 697.8L1283 696.5L1284.4 691L1286.3 689.1L1287.2 680.9L1288.5 675.9L1291.6 701.1L1294 699.3L1296.2 703.5L1299.2 700.8L1301.4 697.1L1303.6 693.8L1306 687.9L1308.4 700.2L1310.6 696.5L1313.4 696L1315.2 691L1317.1 684.9L1318.9 679.4L1321.3 672.9L1324.8 665L1328.3 670.3L1330.9 711.3L1331 711L1342 711.4L1353.4 712.1L1369.2 711.2L1384.1 710.5L1398.9 709L1413.7 707.9L1424.5 706.9L1431.5 705.9L1438.4 704.5" fill="none" stroke="#7a9fb0" stroke-width="2.3" stroke-linejoin="round"/>
<g fill="#7a9fb0"><circle cx="101.4" cy="635.3" r="2.6"/><circle cx="103.6" cy="624.1" r="2.6"/><circle cx="107.1" cy="628.5" r="2.6"/><circle cx="111.5" cy="632" r="2.6"/><circle cx="113.6" cy="625.2" r="2.6"/><circle cx="116.7" cy="613.2" r="2.6"/><circle cx="121.3" cy="608.6" r="2.6"/><circle cx="126.8" cy="614.3" r="2.6"/><circle cx="132.2" cy="609.9" r="2.6"/><circle cx="136.8" cy="608.6" r="2.6"/><circle cx="142.3" cy="611.2" r="2.6"/><circle cx="147.7" cy="676.8" r="2.6"/><circle cx="149.7" cy="666.1" r="2.6"/><circle cx="151.7" cy="693.8" r="2.6"/><circle cx="153.4" cy="692.5" r="2.6"/><circle cx="155.6" cy="684.9" r="2.6"/><circle cx="157.4" cy="668.1" r="2.6"/><circle cx="161.1" cy="667.2" r="2.6"/><circle cx="163" cy="641.8" r="2.6"/><circle cx="166.7" cy="645.3" r="2.6"/><circle cx="170.9" cy="643.2" r="2.6"/><circle cx="174.2" cy="634.2" r="2.6"/><circle cx="178.5" cy="616.9" r="2.6"/><circle cx="184.2" cy="623.2" r="2.6"/><circle cx="186.6" cy="624.3" r="2.6"/><circle cx="189.5" cy="613.2" r="2.6"/><circle cx="196" cy="692.5" r="2.6"/><circle cx="198.5" cy="688.6" r="2.6"/><circle cx="200.8" cy="681.4" r="2.6"/><circle cx="201.3" cy="671.3" r="2.6"/><circle cx="205.9" cy="654.1" r="2.6"/><circle cx="208.1" cy="639.6" r="2.6"/><circle cx="211.5" cy="648.8" r="2.6"/><circle cx="215" cy="646.4" r="2.6"/><circle cx="217" cy="639.6" r="2.6"/><circle cx="220.5" cy="628.7" r="2.6"/><circle cx="222.3" cy="618.7" r="2.6"/><circle cx="226.9" cy="624.3" r="2.6"/><circle cx="230.6" cy="622.1" r="2.6"/><circle cx="233.6" cy="616.7" r="2.6"/><circle cx="237.6" cy="699.1" r="2.6"/><circle cx="240.2" cy="698" r="2.6"/><circle cx="243.2" cy="693.8" r="2.6"/><circle cx="244.4" cy="687.9" r="2.6"/><circle cx="245.7" cy="682.3" r="2.6"/><circle cx="248.7" cy="670.5" r="2.6"/><circle cx="251.1" cy="651.5" r="2.6"/><circle cx="254.2" cy="650.4" r="2.6"/><circle cx="256.8" cy="654.1" r="2.6"/><circle cx="259.7" cy="649.9" r="2.6"/><circle cx="262.1" cy="639.6" r="2.6"/><circle cx="264.4" cy="693.6" r="2.6"/><circle cx="267.9" cy="686.9" r="2.6"/><circle cx="269.5" cy="680.9" r="2.6"/><circle cx="272.5" cy="679.4" r="2.6"/><circle cx="274.3" cy="668.5" r="2.6"/><circle cx="277.3" cy="648.6" r="2.6"/><circle cx="279.7" cy="636.4" r="2.6"/><circle cx="282.8" cy="686.8" r="2.6"/><circle cx="285.4" cy="684.5" r="2.6"/><circle cx="286.7" cy="681.8" r="2.6"/><circle cx="289.4" cy="672.7" r="2.6"/><circle cx="292.7" cy="658.4" r="2.6"/><circle cx="293.8" cy="647.7" r="2.6"/><circle cx="297" cy="635.1" r="2.6"/><circle cx="299.7" cy="637.5" r="2.6"/><circle cx="301.8" cy="644" r="2.6"/><circle cx="304.7" cy="640.3" r="2.6"/><circle cx="307.3" cy="636.4" r="2.6"/><circle cx="309.3" cy="686.8" r="2.6"/><circle cx="314.9" cy="670.5" r="2.6"/><circle cx="320.4" cy="694.7" r="2.6"/><circle cx="322.1" cy="693.8" r="2.6"/><circle cx="323.5" cy="681.2" r="2.6"/><circle cx="327.2" cy="693.8" r="2.6"/><circle cx="329.6" cy="693.4" r="2.6"/><circle cx="331.5" cy="689.1" r="2.6"/><circle cx="333.8" cy="684.9" r="2.6"/><circle cx="336.8" cy="669.4" r="2.6"/><circle cx="342.3" cy="643.4" r="2.6"/><circle cx="344.5" cy="651.4" r="2.6"/><circle cx="346.9" cy="654.3" r="2.6"/><circle cx="349" cy="645.3" r="2.6"/><circle cx="352.3" cy="639.7" r="2.6"/><circle cx="354.5" cy="633.3" r="2.6"/><circle cx="356.5" cy="622.1" r="2.6"/><circle cx="358.9" cy="625.6" r="2.6"/><circle cx="361.1" cy="629.8" r="2.6"/><circle cx="364.3" cy="626.5" r="2.6"/><circle cx="367" cy="625" r="2.6"/><circle cx="368.6" cy="618.7" r="2.6"/><circle cx="374.2" cy="616.3" r="2.6"/><circle cx="379" cy="619.7" r="2.6"/><circle cx="383.9" cy="703.3" r="2.6"/><circle cx="386.7" cy="703" r="2.6"/><circle cx="390.9" cy="699.8" r="2.6"/><circle cx="393.7" cy="693.8" r="2.6"/><circle cx="396.3" cy="690.1" r="2.6"/><circle cx="398.7" cy="700.2" r="2.6"/><circle cx="399.8" cy="696.5" r="2.6"/><circle cx="401.1" cy="692.5" r="2.6"/><circle cx="404.4" cy="691" r="2.6"/><circle cx="406.6" cy="689.1" r="2.6"/><circle cx="408.5" cy="682.3" r="2.6"/><circle cx="409.4" cy="676.6" r="2.6"/><circle cx="411.4" cy="656" r="2.6"/><circle cx="413.6" cy="649.5" r="2.6"/><circle cx="419.1" cy="637.7" r="2.6"/><circle cx="421.5" cy="644.9" r="2.6"/><circle cx="425.8" cy="635.1" r="2.6"/><circle cx="429.3" cy="628.5" r="2.6"/><circle cx="431.5" cy="616.7" r="2.6"/><circle cx="436.8" cy="694.7" r="2.6"/><circle cx="438.3" cy="689.5" r="2.6"/><circle cx="439.4" cy="678.1" r="2.6"/><circle cx="441.3" cy="670.3" r="2.6"/><circle cx="446.8" cy="640.3" r="2.6"/><circle cx="449.4" cy="645.8" r="2.6"/><circle cx="452.1" cy="649.5" r="2.6"/><circle cx="454.5" cy="694.9" r="2.6"/><circle cx="458.2" cy="685.1" r="2.6"/><circle cx="459.7" cy="670.3" r="2.6"/><circle cx="461.9" cy="665" r="2.6"/><circle cx="465" cy="667.4" r="2.6"/><circle cx="466.3" cy="659.7" r="2.6"/><circle cx="468.7" cy="650.4" r="2.6"/><circle cx="472.1" cy="639.7" r="2.6"/><circle cx="473.2" cy="630.7" r="2.6"/><circle cx="476.5" cy="618.7" r="2.6"/><circle cx="481.8" cy="678.1" r="2.6"/><circle cx="484" cy="666.1" r="2.6"/><circle cx="486.6" cy="657.3" r="2.6"/><circle cx="488.5" cy="695.8" r="2.6"/><circle cx="492.9" cy="685.1" r="2.6"/><circle cx="495.1" cy="680.9" r="2.6"/><circle cx="497.5" cy="675" r="2.6"/><circle cx="499.5" cy="659.5" r="2.6"/><circle cx="502.5" cy="650.4" r="2.6"/><circle cx="505.2" cy="637.7" r="2.6"/><circle cx="508" cy="642.7" r="2.6"/><circle cx="510.9" cy="646.4" r="2.6"/><circle cx="514.6" cy="643.2" r="2.6"/><circle cx="517.4" cy="634.2" r="2.6"/><circle cx="519.1" cy="690.4" r="2.6"/><circle cx="522.7" cy="700.2" r="2.6"/><circle cx="526.1" cy="696" r="2.6"/><circle cx="528.3" cy="684.9" r="2.6"/><circle cx="530.5" cy="675.9" r="2.6"/><circle cx="532.5" cy="665" r="2.6"/><circle cx="534.7" cy="652.8" r="2.6"/><circle cx="537.5" cy="655" r="2.6"/><circle cx="540.4" cy="659.5" r="2.6"/><circle cx="542.3" cy="649.5" r="2.6"/><circle cx="544.5" cy="644.2" r="2.6"/><circle cx="548" cy="636.6" r="2.6"/><circle cx="551.3" cy="624.1" r="2.6"/><circle cx="554.1" cy="629.8" r="2.6"/><circle cx="557.8" cy="685.5" r="2.6"/><circle cx="559.2" cy="676.6" r="2.6"/><circle cx="562" cy="696.5" r="2.6"/><circle cx="566.1" cy="699.3" r="2.6"/><circle cx="567.9" cy="703.5" r="2.6"/><circle cx="570.7" cy="697.8" r="2.6"/><circle cx="573.8" cy="691.4" r="2.6"/><circle cx="576.8" cy="685.8" r="2.6"/><circle cx="579" cy="676.6" r="2.6"/><circle cx="581.2" cy="673.5" r="2.6"/><circle cx="583.8" cy="677.2" r="2.6"/><circle cx="586.5" cy="668.5" r="2.6"/><circle cx="588.5" cy="653" r="2.6"/><circle cx="591.1" cy="645.1" r="2.6"/><circle cx="599.6" cy="681.2" r="2.6"/><circle cx="602.2" cy="669.4" r="2.6"/><circle cx="604" cy="698" r="2.6"/><circle cx="606.8" cy="693.8" r="2.6"/><circle cx="609.6" cy="684.9" r="2.6"/><circle cx="611.8" cy="699.3" r="2.6"/><circle cx="613.4" cy="698.9" r="2.6"/><circle cx="616.4" cy="695" r="2.6"/><circle cx="618.6" cy="686.8" r="2.6"/><circle cx="620.6" cy="679.9" r="2.6"/><circle cx="623.2" cy="671.3" r="2.6"/><circle cx="625.2" cy="656.2" r="2.6"/><circle cx="628.7" cy="666.1" r="2.6"/><circle cx="630.9" cy="663.2" r="2.6"/><circle cx="632.8" cy="656.3" r="2.6"/><circle cx="636.1" cy="644" r="2.6"/><circle cx="639" cy="700.2" r="2.6"/><circle cx="641.6" cy="697.1" r="2.6"/><circle cx="643.8" cy="694.7" r="2.6"/><circle cx="645.8" cy="689.1" r="2.6"/><circle cx="649" cy="675.7" r="2.6"/><circle cx="651.4" cy="668.3" r="2.6"/><circle cx="654.5" cy="689.1" r="2.6"/><circle cx="656.7" cy="688.6" r="2.6"/><circle cx="658.2" cy="683.6" r="2.6"/><circle cx="660" cy="680.9" r="2.6"/><circle cx="661.3" cy="674.6" r="2.6"/><circle cx="664.3" cy="697.8" r="2.6"/><circle cx="665.9" cy="694.7" r="2.6"/><circle cx="669.2" cy="680.9" r="2.6"/><circle cx="673.3" cy="680.1" r="2.6"/><circle cx="676.6" cy="690.1" r="2.6"/><circle cx="679" cy="700.2" r="2.6"/><circle cx="682.5" cy="695.6" r="2.6"/><circle cx="683.4" cy="689.1" r="2.6"/><circle cx="686.8" cy="686" r="2.6"/><circle cx="689" cy="683.6" r="2.6"/><circle cx="689.9" cy="676.6" r="2.6"/><circle cx="692.3" cy="668.3" r="2.6"/><circle cx="695" cy="655" r="2.6"/><circle cx="697.3" cy="644" r="2.6"/><circle cx="699.8" cy="643.1" r="2.6"/><circle cx="701.7" cy="651.4" r="2.6"/><circle cx="704.3" cy="654.1" r="2.6"/><circle cx="707.4" cy="647.7" r="2.6"/><circle cx="709.6" cy="640.7" r="2.6"/><circle cx="711.8" cy="626.5" r="2.6"/><circle cx="715.3" cy="625" r="2.6"/><circle cx="717.2" cy="629.2" r="2.6"/><circle cx="721.8" cy="634.4" r="2.6"/><circle cx="725.5" cy="630.7" r="2.6"/><circle cx="727.3" cy="614.1" r="2.6"/><circle cx="732.5" cy="616.7" r="2.6"/><circle cx="738.5" cy="616.7" r="2.6"/><circle cx="742.6" cy="683.6" r="2.6"/><circle cx="744.8" cy="679" r="2.6"/><circle cx="747.2" cy="672.9" r="2.6"/><circle cx="749.4" cy="663.9" r="2.6"/><circle cx="751.8" cy="661.1" r="2.6"/><circle cx="753.5" cy="646.2" r="2.6"/><circle cx="757.2" cy="629.6" r="2.6"/><circle cx="759.2" cy="700.2" r="2.6"/><circle cx="761.8" cy="698.9" r="2.6"/><circle cx="763.6" cy="695.2" r="2.6"/><circle cx="766" cy="701.1" r="2.6"/><circle cx="769.3" cy="693.8" r="2.6"/><circle cx="771.2" cy="691.9" r="2.6"/><circle cx="771.5" cy="700.4" r="2.6"/><circle cx="774.3" cy="697.8" r="2.6"/><circle cx="777.1" cy="695.6" r="2.6"/><circle cx="778.4" cy="693.8" r="2.6"/><circle cx="780.2" cy="688.2" r="2.6"/><circle cx="782.2" cy="681.2" r="2.6"/><circle cx="784.6" cy="675" r="2.6"/><circle cx="786.7" cy="657.3" r="2.6"/><circle cx="789.1" cy="656" r="2.6"/><circle cx="792.4" cy="662.4" r="2.6"/><circle cx="794.6" cy="656" r="2.6"/><circle cx="796.4" cy="692.5" r="2.6"/><circle cx="801" cy="678.1" r="2.6"/><circle cx="803.4" cy="700.2" r="2.6"/><circle cx="806.6" cy="698.9" r="2.6"/><circle cx="807.9" cy="703.5" r="2.6"/><circle cx="810.3" cy="701.5" r="2.6"/><circle cx="812.1" cy="697.1" r="2.6"/><circle cx="814.3" cy="691.9" r="2.6"/><circle cx="816.2" cy="685.1" r="2.6"/><circle cx="818.5" cy="681.4" r="2.6"/><circle cx="821.9" cy="682.3" r="2.6"/><circle cx="823.7" cy="675.9" r="2.6"/><circle cx="827.2" cy="664.8" r="2.6"/><circle cx="829.6" cy="658.4" r="2.6"/><circle cx="832" cy="645.1" r="2.6"/><circle cx="834" cy="645.1" r="2.6"/><circle cx="836.2" cy="651.4" r="2.6"/><circle cx="838.5" cy="655.4" r="2.6"/><circle cx="841.6" cy="648.6" r="2.6"/><circle cx="844" cy="643.2" r="2.6"/><circle cx="846.2" cy="627.8" r="2.6"/><circle cx="849.3" cy="625" r="2.6"/><circle cx="851.7" cy="628.9" r="2.6"/><circle cx="856.3" cy="633.3" r="2.6"/><circle cx="859.3" cy="625.2" r="2.6"/><circle cx="861.5" cy="612.3" r="2.6"/><circle cx="867" cy="615.4" r="2.6"/><circle cx="872" cy="614.1" r="2.6"/><circle cx="876.8" cy="695.6" r="2.6"/><circle cx="879.4" cy="691" r="2.6"/><circle cx="882.1" cy="691" r="2.6"/><circle cx="883.4" cy="678.1" r="2.6"/><circle cx="884.5" cy="703.5" r="2.6"/><circle cx="886.4" cy="703" r="2.6"/><circle cx="888.6" cy="700.2" r="2.6"/><circle cx="890.4" cy="695.6" r="2.6"/><circle cx="890.6" cy="691" r="2.6"/><circle cx="893.2" cy="687.3" r="2.6"/><circle cx="896" cy="685.5" r="2.6"/><circle cx="898" cy="683.6" r="2.6"/><circle cx="899.1" cy="698.9" r="2.6"/><circle cx="900.9" cy="690.4" r="2.6"/><circle cx="903.3" cy="690.1" r="2.6"/><circle cx="905" cy="701.1" r="2.6"/><circle cx="909.7" cy="698.4" r="2.6"/><circle cx="912.5" cy="704.4" r="2.6"/><circle cx="915.3" cy="700.8" r="2.6"/><circle cx="918" cy="695.6" r="2.6"/><circle cx="919.9" cy="693.8" r="2.6"/><circle cx="920.8" cy="689.1" r="2.6"/><circle cx="923.6" cy="686.8" r="2.6"/><circle cx="927.3" cy="684.2" r="2.6"/><circle cx="929.1" cy="679.9" r="2.6"/><circle cx="931.9" cy="669.4" r="2.6"/><circle cx="933.7" cy="661.5" r="2.6"/><circle cx="937.4" cy="650.4" r="2.6"/><circle cx="939.8" cy="695.6" r="2.6"/><circle cx="942.6" cy="693.8" r="2.6"/><circle cx="943.3" cy="690.1" r="2.6"/><circle cx="944.4" cy="681.8" r="2.6"/><circle cx="946.2" cy="676.6" r="2.6"/><circle cx="948.5" cy="671.3" r="2.6"/><circle cx="950.3" cy="656.9" r="2.6"/><circle cx="954" cy="659.1" r="2.6"/><circle cx="956.4" cy="663.9" r="2.6"/><circle cx="958.6" cy="663.2" r="2.6"/><circle cx="960.4" cy="657.3" r="2.6"/><circle cx="963.8" cy="649.5" r="2.6"/><circle cx="966" cy="636.2" r="2.6"/><circle cx="968.7" cy="636.2" r="2.6"/><circle cx="971.9" cy="638.8" r="2.6"/><circle cx="972.8" cy="693.8" r="2.6"/><circle cx="976.1" cy="687.3" r="2.6"/><circle cx="978.3" cy="672.2" r="2.6"/><circle cx="981.3" cy="694.7" r="2.6"/><circle cx="983.5" cy="690.1" r="2.6"/><circle cx="986.2" cy="686" r="2.6"/><circle cx="987.2" cy="679.6" r="2.6"/><circle cx="989.9" cy="667.9" r="2.6"/><circle cx="992.7" cy="660.4" r="2.6"/><circle cx="994.5" cy="700.2" r="2.6"/><circle cx="997.3" cy="696.5" r="2.6"/><circle cx="999.1" cy="703.5" r="2.6"/><circle cx="1001.9" cy="700.2" r="2.6"/><circle cx="1003.8" cy="697.4" r="2.6"/><circle cx="1005.6" cy="692.5" r="2.6"/><circle cx="1006.9" cy="690.1" r="2.6"/><circle cx="1009.3" cy="675.7" r="2.6"/><circle cx="1011.1" cy="673.8" r="2.6"/><circle cx="1014.8" cy="675.9" r="2.6"/><circle cx="1015.7" cy="700.2" r="2.6"/><circle cx="1018.1" cy="698.9" r="2.6"/><circle cx="1020.3" cy="694.7" r="2.6"/><circle cx="1021.3" cy="690.1" r="2.6"/><circle cx="1023.5" cy="679" r="2.6"/><circle cx="1026.4" cy="702.2" r="2.6"/><circle cx="1030.5" cy="701.1" r="2.6"/><circle cx="1032.3" cy="693.8" r="2.6"/><circle cx="1035.1" cy="691.5" r="2.6"/><circle cx="1036.6" cy="689.1" r="2.6"/><circle cx="1038.4" cy="671.3" r="2.6"/><circle cx="1040.6" cy="666.7" r="2.6"/><circle cx="1043.9" cy="670.3" r="2.6"/><circle cx="1046.5" cy="668.9" r="2.6"/><circle cx="1048.4" cy="661.5" r="2.6"/><circle cx="1050.8" cy="655" r="2.6"/><circle cx="1053.9" cy="705.4" r="2.6"/><circle cx="1057.2" cy="704.4" r="2.6"/><circle cx="1060" cy="703" r="2.6"/><circle cx="1062.4" cy="700.8" r="2.6"/><circle cx="1063.7" cy="696.5" r="2.6"/><circle cx="1065.5" cy="693.8" r="2.6"/><circle cx="1067.4" cy="690.1" r="2.6"/><circle cx="1069.2" cy="684.5" r="2.6"/><circle cx="1071" cy="681.8" r="2.6"/><circle cx="1074.7" cy="680.9" r="2.6"/><circle cx="1075.1" cy="682.7" r="2.6"/><circle cx="1077.1" cy="675.9" r="2.6"/><circle cx="1080.3" cy="663.9" r="2.6"/><circle cx="1082.5" cy="659.5" r="2.6"/><circle cx="1084.9" cy="694.3" r="2.6"/><circle cx="1086.2" cy="691.9" r="2.6"/><circle cx="1087.1" cy="701.1" r="2.6"/><circle cx="1090.4" cy="700.2" r="2.6"/><circle cx="1092.6" cy="703.5" r="2.6"/><circle cx="1094.1" cy="705.7" r="2.6"/><circle cx="1095.9" cy="703" r="2.6"/><circle cx="1099.2" cy="695.2" r="2.6"/><circle cx="1101.5" cy="698.9" r="2.6"/><circle cx="1103.7" cy="700.8" r="2.6"/><circle cx="1106.1" cy="695.6" r="2.6"/><circle cx="1108.8" cy="691" r="2.6"/><circle cx="1110.7" cy="685.5" r="2.6"/><circle cx="1112.5" cy="680.1" r="2.6"/><circle cx="1114.4" cy="692.5" r="2.6"/><circle cx="1117.1" cy="691" r="2.6"/><circle cx="1119.9" cy="690.1" r="2.6"/><circle cx="1122.3" cy="685.5" r="2.6"/><circle cx="1123.9" cy="679" r="2.6"/><circle cx="1125.4" cy="674" r="2.6"/><circle cx="1127.6" cy="695.6" r="2.6"/><circle cx="1130" cy="691" r="2.6"/><circle cx="1132.8" cy="689.1" r="2.6"/><circle cx="1134.6" cy="687.3" r="2.6"/><circle cx="1135.6" cy="679.9" r="2.6"/><circle cx="1137.8" cy="697.8" r="2.6"/><circle cx="1140.2" cy="693.8" r="2.6"/><circle cx="1142.9" cy="690.1" r="2.6"/><circle cx="1144.8" cy="681.8" r="2.6"/><circle cx="1146.6" cy="678.1" r="2.6"/><circle cx="1149" cy="676.6" r="2.6"/><circle cx="1150.9" cy="696.5" r="2.6"/><circle cx="1153.1" cy="695" r="2.6"/><circle cx="1154.9" cy="691" r="2.6"/><circle cx="1156.4" cy="680.1" r="2.6"/><circle cx="1158.2" cy="667" r="2.6"/><circle cx="1160.4" cy="663.9" r="2.6"/><circle cx="1164.1" cy="669.4" r="2.6"/><circle cx="1166.3" cy="663.9" r="2.6"/><circle cx="1168.4" cy="654.1" r="2.6"/><circle cx="1171.5" cy="643.2" r="2.6"/><circle cx="1173.7" cy="628.7" r="2.6"/><circle cx="1177.5" cy="630.3" r="2.6"/><circle cx="1180.1" cy="638.8" r="2.6"/><circle cx="1181.6" cy="693.8" r="2.6"/><circle cx="1182.9" cy="690.4" r="2.6"/><circle cx="1184.9" cy="679" r="2.6"/><circle cx="1188.2" cy="694.9" r="2.6"/><circle cx="1189.9" cy="690.1" r="2.6"/><circle cx="1192.6" cy="689.1" r="2.6"/><circle cx="1195" cy="684.9" r="2.6"/><circle cx="1196" cy="676.6" r="2.6"/><circle cx="1198.2" cy="664.8" r="2.6"/><circle cx="1201.3" cy="649.9" r="2.6"/><circle cx="1202.6" cy="639.6" r="2.6"/><circle cx="1205.6" cy="689.1" r="2.6"/><circle cx="1208.3" cy="688.2" r="2.6"/><circle cx="1209.8" cy="685.5" r="2.6"/><circle cx="1210.7" cy="676.6" r="2.6"/><circle cx="1212.6" cy="668.3" r="2.6"/><circle cx="1214.4" cy="657.3" r="2.6"/><circle cx="1217.9" cy="640.5" r="2.6"/><circle cx="1220.3" cy="689.1" r="2.6"/><circle cx="1222.7" cy="689.1" r="2.6"/><circle cx="1224" cy="686.4" r="2.6"/><circle cx="1225.8" cy="680.1" r="2.6"/><circle cx="1226.8" cy="672.6" r="2.6"/><circle cx="1229.9" cy="664.8" r="2.6"/><circle cx="1232.3" cy="647.3" r="2.6"/><circle cx="1234.5" cy="642.1" r="2.6"/><circle cx="1237.8" cy="649.5" r="2.6"/><circle cx="1239.8" cy="654.1" r="2.6"/><circle cx="1242.1" cy="648.6" r="2.6"/><circle cx="1244.3" cy="643.2" r="2.6"/><circle cx="1246.5" cy="694.7" r="2.6"/><circle cx="1247.6" cy="700.4" r="2.6"/><circle cx="1250.2" cy="697.8" r="2.6"/><circle cx="1252.6" cy="695.6" r="2.6"/><circle cx="1254.8" cy="693.8" r="2.6"/><circle cx="1255.7" cy="688.2" r="2.6"/><circle cx="1257.7" cy="680.1" r="2.6"/><circle cx="1259.6" cy="673.8" r="2.6"/><circle cx="1264.2" cy="653.2" r="2.6"/><circle cx="1267.3" cy="659.5" r="2.6"/><circle cx="1270.1" cy="658.7" r="2.6"/><circle cx="1273.8" cy="646.4" r="2.6"/><circle cx="1276.3" cy="638.6" r="2.6"/><circle cx="1280.8" cy="697.8" r="2.6"/><circle cx="1283" cy="696.5" r="2.6"/><circle cx="1284.4" cy="691" r="2.6"/><circle cx="1286.3" cy="689.1" r="2.6"/><circle cx="1287.2" cy="680.9" r="2.6"/><circle cx="1288.5" cy="675.9" r="2.6"/><circle cx="1291.6" cy="701.1" r="2.6"/><circle cx="1294" cy="699.3" r="2.6"/><circle cx="1296.2" cy="703.5" r="2.6"/><circle cx="1299.2" cy="700.8" r="2.6"/><circle cx="1301.4" cy="697.1" r="2.6"/><circle cx="1303.6" cy="693.8" r="2.6"/><circle cx="1306" cy="687.9" r="2.6"/><circle cx="1308.4" cy="700.2" r="2.6"/><circle cx="1310.6" cy="696.5" r="2.6"/><circle cx="1313.4" cy="696" r="2.6"/><circle cx="1315.2" cy="691" r="2.6"/><circle cx="1317.1" cy="684.9" r="2.6"/><circle cx="1318.9" cy="679.4" r="2.6"/><circle cx="1321.3" cy="672.9" r="2.6"/><circle cx="1324.8" cy="665" r="2.6"/><circle cx="1328.3" cy="670.3" r="2.6"/><circle cx="1330.9" cy="711.3" r="2.6"/></g>
<path d="M1331.6 711h0M1334 711.1h0M1336.5 711.2h0M1339 711.3h0M1341.5 711.4h0M1344 711.5h0M1346.4 711.7h0M1348.9 711.8h0M1351.4 712h0M1353.9 712.1h0M1356.3 711.9h0M1358.8 711.8h0M1361.3 711.7h0M1363.8 711.5h0M1366.2 711.4h0M1368.7 711.2h0M1371.2 711.1h0M1373.7 711h0M1376.1 710.9h0M1378.6 710.8h0M1381.1 710.6h0M1383.6 710.5h0M1386 710.3h0M1388.5 710.1h0M1391 709.8h0M1393.5 709.6h0M1395.9 709.3h0M1398.4 709h0M1400.9 708.9h0M1403.4 708.7h0M1405.9 708.5h0M1408.3 708.3h0M1410.8 708.1h0M1413.3 707.9h0M1415.8 707.7h0M1418.2 707.5h0M1420.7 707.3h0M1423.2 707h0M1425.7 706.7h0M1428.1 706.4h0M1430.6 706h0M1433.1 705.6h0M1435.6 705.1h0M1438 704.6h0" fill="none" stroke="#7a9fb0" stroke-width="5" stroke-linecap="round"/>
</svg>
</body></html>
